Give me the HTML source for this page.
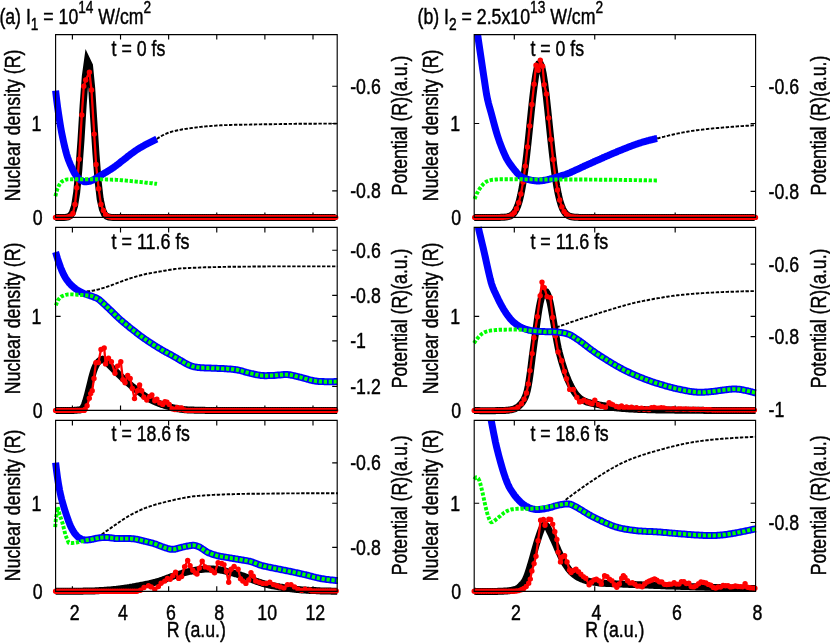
<!DOCTYPE html>
<html><head><meta charset="utf-8"><title>fig</title>
<style>html,body{margin:0;padding:0;background:#fff;overflow:hidden}svg{display:block;will-change:transform}</style></head>
<body>
<svg width="830" height="643" viewBox="0 0 830 643" font-family='"Liberation Sans", sans-serif' fill="#000">
<style>text{stroke:#000;stroke-width:0.45px;stroke-linejoin:round}</style>
<rect width="830" height="643" fill="#fff"/>
<clipPath id="c00"><rect x="55.10" y="34.10" width="282.60" height="186.80"/></clipPath>
<path d="M72.40,34.60v5M72.40,217.40v-5M120.52,34.60v5M120.52,217.40v-5M168.64,34.60v5M168.64,217.40v-5M216.76,34.60v5M216.76,217.40v-5M264.88,34.60v5M264.88,217.40v-5M313.00,34.60v5M313.00,217.40v-5M55.60,123.50h5M337.20,123.50h-5M337.20,86.20h-5M337.20,190.80h-5" fill="none" stroke="#000" stroke-width="1.15"/>
<g id="p00">
<path d="M55.3,217.4L57.4,217.4L59.6,217.4L61.7,217.4L63.9,217.4L66.0,217.2L68.1,216.9L70.3,215.7L72.4,212.6L74.6,205.7L76.7,192.3L78.8,170.3L81.0,140.0L83.1,105.8L85.3,76.3L87.4,61.1L89.5,65.5L91.7,88.1L93.8,120.8L96.0,154.2L98.1,181.1L100.2,199.1L102.4,209.3L104.5,214.3L106.7,216.3L108.8,217.1L110.9,217.3L113.1,217.4L115.2,217.4L117.4,217.4L119.5,217.4L121.6,217.4L123.8,217.4L125.9,217.4L128.1,217.4L130.2,217.4L132.3,217.4L134.5,217.4L136.6,217.4L138.8,217.4L140.9,217.4L143.0,217.4L145.2,217.4L147.3,217.4L149.5,217.4L151.6,217.4L153.7,217.4L155.9,217.4L158.0,217.4L160.2,217.4L162.3,217.4L164.4,217.4L166.6,217.4L168.7,217.4L170.9,217.4L173.0,217.4L175.1,217.4L177.3,217.4L179.4,217.4L181.6,217.4L183.7,217.4L185.8,217.4L188.0,217.4L190.1,217.4L192.3,217.4L194.4,217.4L196.5,217.4L198.7,217.4L200.8,217.4L203.0,217.4L205.1,217.4L207.2,217.4L209.4,217.4L211.5,217.4L213.7,217.4L215.8,217.4L217.9,217.4L220.1,217.4L222.2,217.4L224.4,217.4L226.5,217.4L228.6,217.4L230.8,217.4L232.9,217.4L235.1,217.4L237.2,217.4L239.3,217.4L241.5,217.4L243.6,217.4L245.8,217.4L247.9,217.4L250.0,217.4L252.2,217.4L254.3,217.4L256.5,217.4L258.6,217.4L260.7,217.4L262.9,217.4L265.0,217.4L267.2,217.4L269.3,217.4L271.4,217.4L273.6,217.4L275.7,217.4L277.9,217.4L280.0,217.4L282.1,217.4L284.3,217.4L286.4,217.4L288.6,217.4L290.7,217.4L292.8,217.4L295.0,217.4L297.1,217.4L299.3,217.4L301.4,217.4L303.5,217.4L305.7,217.4L307.8,217.4L310.0,217.4L312.1,217.4L314.2,217.4L316.4,217.4L318.5,217.4L320.7,217.4L322.8,217.4L324.9,217.4L327.1,217.4L329.2,217.4L331.4,217.4L333.5,217.4L335.6,217.4" fill="none" stroke="#000000" stroke-width="7.0" stroke-linejoin="miter" stroke-linecap="butt" stroke-miterlimit="10"/><path d="M55.5,217.4L57.6,217.4L59.8,217.4L62.0,217.4L64.2,217.4L66.3,217.4L68.5,217.0L70.7,215.9L72.9,213.4L75.0,204.4L76.8,187.8L79.1,159.2L81.8,115.0L83.8,86.2L85.7,80.0L89.4,72.2L91.5,90.0L94.2,134.1L96.1,164.5L98.6,188.7L101.0,204.4L103.4,210.5L105.6,214.5L107.8,216.4L110.0,217.1L112.2,217.4L114.3,217.4L116.5,217.4L118.7,217.4L120.9,217.4L123.0,217.4L125.2,217.4L127.4,217.4L129.5,217.4L131.7,217.4L133.9,217.4L136.0,217.4L138.2,217.4L140.4,217.4L142.6,217.4L144.7,217.4L146.9,217.4L149.1,217.4L151.2,217.4L153.4,217.4L155.6,217.4L157.7,217.4L159.9,217.4L162.1,217.4L164.3,217.4L166.4,217.4L168.6,217.4L170.8,217.4L172.9,217.4L175.1,217.4L177.3,217.4L179.4,217.4L181.6,217.4L183.8,217.4L186.0,217.4L188.1,217.4L190.3,217.4L192.5,217.4L194.6,217.4L196.8,217.4L199.0,217.4L201.1,217.4L203.3,217.4L205.5,217.4L207.7,217.4L209.8,217.4L212.0,217.4L214.2,217.4L216.3,217.4L218.5,217.4L220.7,217.4L222.8,217.4L225.0,217.4L227.2,217.4L229.4,217.4L231.5,217.4L233.7,217.4L235.9,217.4L238.0,217.4L240.2,217.4L242.4,217.4L244.5,217.4L246.7,217.4L248.9,217.4L251.1,217.4L253.2,217.4L255.4,217.4L257.6,217.4L259.7,217.4L261.9,217.4L264.1,217.4L266.2,217.4L268.4,217.4L270.6,217.4L272.8,217.4L274.9,217.4L277.1,217.4L279.3,217.4L281.4,217.4L283.6,217.4L285.8,217.4L287.9,217.4L290.1,217.4L292.3,217.4L294.5,217.4L296.6,217.4L298.8,217.4L301.0,217.4L303.1,217.4L305.3,217.4L307.5,217.4L309.6,217.4L311.8,217.4L314.0,217.4L316.2,217.4L318.3,217.4L320.5,217.4L322.7,217.4L324.8,217.4L327.0,217.4L329.2,217.4L331.3,217.4L333.5,217.4L335.7,217.4" fill="none" stroke="#ff0000" stroke-width="2.3" stroke-linejoin="round" stroke-linecap="butt"/><path d="M55.5,217.4h0M57.6,217.4h0M59.8,217.4h0M62.0,217.4h0M64.2,217.4h0M66.3,217.4h0M68.5,217.0h0M70.7,215.9h0M72.9,213.4h0M75.0,204.4h0M76.8,187.8h0M79.1,159.2h0M81.8,115.0h0M83.8,86.2h0M85.7,80.0h0M89.4,72.2h0M91.5,90.0h0M94.2,134.1h0M96.1,164.5h0M98.6,188.7h0M101.0,204.4h0M103.4,210.5h0M105.6,214.5h0M107.8,216.4h0M110.0,217.1h0M112.2,217.4h0M114.3,217.4h0M116.5,217.4h0M118.7,217.4h0M120.9,217.4h0M123.0,217.4h0M125.2,217.4h0M127.4,217.4h0M129.5,217.4h0M131.7,217.4h0M133.9,217.4h0M136.0,217.4h0M138.2,217.4h0M140.4,217.4h0M142.6,217.4h0M144.7,217.4h0M146.9,217.4h0M149.1,217.4h0M151.2,217.4h0M153.4,217.4h0M155.6,217.4h0M157.7,217.4h0M159.9,217.4h0M162.1,217.4h0M164.3,217.4h0M166.4,217.4h0M168.6,217.4h0M170.8,217.4h0M172.9,217.4h0M175.1,217.4h0M177.3,217.4h0M179.4,217.4h0M181.6,217.4h0M183.8,217.4h0M186.0,217.4h0M188.1,217.4h0M190.3,217.4h0M192.5,217.4h0M194.6,217.4h0M196.8,217.4h0M199.0,217.4h0M201.1,217.4h0M203.3,217.4h0M205.5,217.4h0M207.7,217.4h0M209.8,217.4h0M212.0,217.4h0M214.2,217.4h0M216.3,217.4h0M218.5,217.4h0M220.7,217.4h0M222.8,217.4h0M225.0,217.4h0M227.2,217.4h0M229.4,217.4h0M231.5,217.4h0M233.7,217.4h0M235.9,217.4h0M238.0,217.4h0M240.2,217.4h0M242.4,217.4h0M244.5,217.4h0M246.7,217.4h0M248.9,217.4h0M251.1,217.4h0M253.2,217.4h0M255.4,217.4h0M257.6,217.4h0M259.7,217.4h0M261.9,217.4h0M264.1,217.4h0M266.2,217.4h0M268.4,217.4h0M270.6,217.4h0M272.8,217.4h0M274.9,217.4h0M277.1,217.4h0M279.3,217.4h0M281.4,217.4h0M283.6,217.4h0M285.8,217.4h0M287.9,217.4h0M290.1,217.4h0M292.3,217.4h0M294.5,217.4h0M296.6,217.4h0M298.8,217.4h0M301.0,217.4h0M303.1,217.4h0M305.3,217.4h0M307.5,217.4h0M309.6,217.4h0M311.8,217.4h0M314.0,217.4h0M316.2,217.4h0M318.3,217.4h0M320.5,217.4h0M322.7,217.4h0M324.8,217.4h0M327.0,217.4h0M329.2,217.4h0M331.3,217.4h0M333.5,217.4h0M335.7,217.4h0" fill="none" stroke="#ff0000" stroke-width="5.40" stroke-linecap="round"/><path d="M156.8,139.0L157.8,138.3L158.8,137.6L159.8,137.0L160.8,136.3L161.8,135.8L162.8,135.2L163.8,134.8L164.8,134.3L165.8,133.9L166.8,133.4L167.8,133.0L168.8,132.6L169.8,132.3L170.8,132.0L171.8,131.7L172.8,131.4L173.8,131.2L174.8,131.0L175.8,130.7L176.8,130.5L177.8,130.3L178.8,130.1L179.8,129.9L180.8,129.7L181.8,129.5L182.8,129.3L183.8,129.2L184.8,129.0L185.8,128.9L186.8,128.7L187.8,128.6L188.8,128.4L189.8,128.3L190.8,128.1L191.8,128.0L192.8,127.9L193.8,127.7L194.8,127.6L195.8,127.5L196.8,127.4L197.8,127.3L198.8,127.2L199.8,127.0L200.8,126.9L201.8,126.8L202.8,126.7L203.8,126.6L204.8,126.5L205.8,126.4L206.8,126.3L207.8,126.2L208.8,126.2L209.8,126.1L210.8,126.0L211.8,125.9L212.8,125.8L213.8,125.8L214.8,125.7L215.8,125.6L216.8,125.5L217.8,125.5L218.8,125.4L219.8,125.4L220.8,125.3L221.8,125.3L222.8,125.2L223.8,125.2L224.8,125.1L225.8,125.1L226.8,125.1L227.8,125.0L228.8,125.0L229.8,125.0L230.8,125.0L231.8,124.9L232.8,124.9L233.8,124.9L234.8,124.8L235.8,124.8L236.8,124.8L237.8,124.8L238.8,124.8L239.8,124.7L240.8,124.7L241.8,124.7L242.8,124.7L243.8,124.7L244.8,124.6L245.8,124.6L246.8,124.6L247.8,124.6L248.8,124.6L249.8,124.6L250.8,124.5L251.8,124.5L252.8,124.5L253.8,124.5L254.8,124.5L255.8,124.4L256.8,124.4L257.8,124.4L258.8,124.4L259.8,124.4L260.8,124.4L261.8,124.3L262.8,124.3L263.8,124.3L264.8,124.3L265.8,124.3L266.8,124.3L267.8,124.2L268.8,124.2L269.8,124.2L270.8,124.2L271.8,124.2L272.8,124.2L273.8,124.2L274.8,124.1L275.8,124.1L276.8,124.1L277.8,124.1L278.8,124.1L279.8,124.1L280.8,124.0L281.8,124.0L282.8,124.0L283.8,124.0L284.8,124.0L285.8,124.0L286.8,124.0L287.8,123.9L288.8,123.9L289.8,123.9L290.8,123.9L291.8,123.9L292.8,123.9L293.8,123.9L294.8,123.9L295.8,123.8L296.8,123.8L297.8,123.8L298.8,123.8L299.8,123.8L300.8,123.8L301.8,123.8L302.8,123.8L303.8,123.7L304.8,123.7L305.8,123.7L306.8,123.7L307.8,123.7L308.8,123.7L309.8,123.7L310.8,123.7L311.8,123.7L312.8,123.7L313.8,123.7L314.8,123.7L315.8,123.7L316.8,123.6L317.8,123.6L318.8,123.6L319.8,123.6L320.8,123.6L321.8,123.6L322.8,123.6L323.8,123.6L324.8,123.6L325.8,123.6L326.8,123.6L327.8,123.6L328.8,123.6L329.8,123.6L330.8,123.6L331.8,123.6L332.8,123.6L333.8,123.6L334.8,123.6L335.8,123.6L336.8,123.6L337.0,123.6" fill="none" stroke="#000000" stroke-width="1.9" stroke-linejoin="round" stroke-linecap="butt" stroke-dasharray="3.4 1.57"/><path d="M55.6,90.6L56.6,99.3L57.6,107.1L58.6,114.1L59.6,120.6L60.6,126.7L61.6,132.3L62.6,137.3L63.6,142.0L64.6,146.4L65.6,150.5L66.6,154.2L67.6,157.4L68.6,160.2L69.6,162.7L70.6,165.1L71.6,167.3L72.6,169.5L73.6,171.5L74.6,173.3L75.6,174.9L76.6,176.3L77.6,177.5L78.6,178.5L79.6,179.4L80.6,180.1L81.6,180.6L82.6,181.1L83.6,181.5L84.6,181.7L85.6,181.8L86.6,181.7L87.6,181.6L88.6,181.5L89.6,181.2L90.6,181.0L91.6,180.6L92.6,180.2L93.6,179.6L94.6,179.1L95.6,178.5L96.6,177.9L97.6,177.3L98.6,176.7L99.6,176.1L100.6,175.5L101.6,174.9L102.6,174.3L103.6,173.7L104.6,173.1L105.6,172.5L106.6,171.9L107.6,171.3L108.6,170.7L109.6,170.0L110.6,169.4L111.6,168.8L112.6,168.1L113.6,167.5L114.6,166.7L115.6,166.0L116.6,165.2L117.6,164.5L118.6,163.7L119.6,162.9L120.6,162.1L121.6,161.3L122.6,160.5L123.6,159.8L124.6,159.0L125.6,158.2L126.6,157.4L127.6,156.6L128.6,155.8L129.6,155.1L130.6,154.3L131.6,153.5L132.6,152.8L133.6,152.1L134.6,151.4L135.6,150.7L136.6,150.0L137.6,149.3L138.6,148.7L139.6,148.1L140.6,147.5L141.6,146.9L142.6,146.3L143.6,145.8L144.6,145.2L145.6,144.7L146.6,144.2L147.6,143.6L148.6,143.1L149.6,142.6L150.6,142.1L151.6,141.6L152.6,141.1L153.6,140.6L154.6,140.1L155.6,139.6L156.6,139.1L156.8,139.0" fill="none" stroke="#0000ff" stroke-width="7.0" stroke-linejoin="round" stroke-linecap="butt"/><path d="M55.4,196.2L56.4,192.1L57.4,188.9L58.4,186.6L59.4,184.7L60.4,183.2L61.4,182.0L62.4,181.3L63.4,180.8L64.4,180.3L65.4,179.9L66.4,179.6L67.4,179.4L68.4,179.4L69.4,179.4L70.4,179.4L71.4,179.3L72.4,179.3L73.4,179.3L74.4,179.3L75.4,179.3L76.4,179.2L77.4,179.2L78.4,179.2L79.4,179.2L80.4,179.2L81.4,179.2L82.4,179.2L83.4,179.2L84.4,179.2L85.4,179.2L86.4,179.2L87.4,179.2L88.4,179.2L89.4,179.2L90.4,179.2L91.4,179.2L92.4,179.3L93.4,179.3L94.4,179.3L95.4,179.3L96.4,179.3L97.4,179.3L98.4,179.3L99.4,179.3L100.4,179.3L101.4,179.4L102.4,179.4L103.4,179.4L104.4,179.4L105.4,179.4L106.4,179.5L107.4,179.5L108.4,179.5L109.4,179.6L110.4,179.6L111.4,179.6L112.4,179.7L113.4,179.7L114.4,179.8L115.4,179.8L116.4,179.9L117.4,179.9L118.4,180.0L119.4,180.0L120.4,180.1L121.4,180.2L122.4,180.3L123.4,180.4L124.4,180.4L125.4,180.5L126.4,180.6L127.4,180.7L128.4,180.8L129.4,180.9L130.4,181.0L131.4,181.1L132.4,181.2L133.4,181.3L134.4,181.4L135.4,181.5L136.4,181.6L137.4,181.7L138.4,181.8L139.4,181.9L140.4,182.0L141.4,182.1L142.4,182.2L143.4,182.3L144.4,182.4L145.4,182.6L146.4,182.7L147.4,182.8L148.4,182.9L149.4,183.0L150.4,183.1L151.4,183.2L152.4,183.3L153.4,183.5L154.4,183.6L155.4,183.7L156.4,183.8L157.0,183.9" fill="none" stroke="#00ff00" stroke-width="3.9" stroke-linejoin="miter" stroke-linecap="butt" stroke-dasharray="3.3 1.67"/>
</g>
<path d="M55.60,34.60H337.20V217.40H55.60Z" fill="none" stroke="#000" stroke-width="1.15"/>
<text transform="translate(41.40,131.10) scale(0.806,1)" font-size="22" text-anchor="end">1</text>
<text transform="translate(42.60,224.80) scale(0.806,1)" font-size="22" text-anchor="end">0</text>
<text transform="translate(350.20,93.80) scale(0.806,1)" font-size="22" text-anchor="start">-0.6</text>
<text transform="translate(350.20,198.40) scale(0.806,1)" font-size="22" text-anchor="start">-0.8</text>
<text transform="translate(19.80,125.50) rotate(-90) scale(0.806,1)" font-size="22" text-anchor="middle">Nuclear density (R)</text>
<text transform="translate(407.20,125.50) rotate(-90) scale(0.806,1)" font-size="22" text-anchor="middle">Potential (R)(a.u.)</text>
<text transform="translate(111.60,56.40) scale(0.806,1)" font-size="22" text-anchor="start">t = 0 fs</text>
<clipPath id="c01"><rect x="55.10" y="226.90" width="282.60" height="187.00"/></clipPath>
<path d="M72.40,227.40v5M72.40,410.40v-5M120.52,227.40v5M120.52,410.40v-5M168.64,227.40v5M168.64,410.40v-5M216.76,227.40v5M216.76,410.40v-5M264.88,227.40v5M264.88,410.40v-5M313.00,227.40v5M313.00,410.40v-5M55.60,316.30h5M337.20,316.30h-5M337.20,250.20h-5M337.20,295.40h-5M337.20,340.80h-5M337.20,386.30h-5" fill="none" stroke="#000" stroke-width="1.15"/>
<g id="p01">
<path d="M55.6,410.4L56.6,410.4L57.6,410.4L58.6,410.5L59.6,410.5L60.6,410.5L61.6,410.5L62.6,410.5L63.6,410.5L64.6,410.5L65.6,410.4L66.6,410.4L67.6,410.4L68.6,410.4L69.6,410.4L70.6,410.4L71.6,410.4L72.6,410.4L73.6,410.4L74.6,410.3L75.6,410.3L76.6,410.2L77.6,410.1L78.6,410.1L79.6,410.0L80.6,409.7L81.6,409.1L82.6,408.1L83.6,406.6L84.6,404.4L85.6,401.4L86.6,398.0L87.6,394.3L88.6,390.4L89.6,386.4L90.6,382.3L91.6,378.2L92.6,374.4L93.6,371.1L94.6,368.3L95.6,366.0L96.6,364.1L97.6,362.6L98.6,361.5L99.6,360.7L100.6,360.1L101.6,359.6L102.6,359.3L103.6,359.7L104.6,360.6L105.6,361.5L106.6,362.5L107.6,363.4L108.6,364.4L109.6,365.4L110.6,366.4L111.6,367.4L112.6,368.4L113.6,369.4L114.6,370.4L115.6,371.3L116.6,372.3L117.6,373.3L118.6,374.3L119.6,375.3L120.6,376.2L121.6,377.1L122.6,378.1L123.6,379.0L124.6,379.9L125.6,380.8L126.6,381.6L127.6,382.5L128.6,383.4L129.6,384.2L130.6,385.1L131.6,385.9L132.6,386.7L133.6,387.5L134.6,388.3L135.6,389.1L136.6,389.9L137.6,390.7L138.6,391.5L139.6,392.3L140.6,393.0L141.6,393.7L142.6,394.5L143.6,395.2L144.6,395.9L145.6,396.6L146.6,397.2L147.6,397.9L148.6,398.5L149.6,399.0L150.6,399.6L151.6,400.1L152.6,400.6L153.6,401.1L154.6,401.6L155.6,402.0L156.6,402.4L157.6,402.9L158.6,403.3L159.6,403.7L160.6,404.0L161.6,404.4L162.6,404.7L163.6,405.0L164.6,405.3L165.6,405.6L166.6,405.9L167.6,406.2L168.6,406.5L169.6,406.8L170.6,407.1L171.6,407.3L172.6,407.6L173.6,407.8L174.6,408.1L175.6,408.3L176.6,408.5L177.6,408.7L178.6,408.9L179.6,409.0L180.6,409.2L181.6,409.3L182.6,409.4L183.6,409.6L184.6,409.7L185.6,409.7L186.6,409.8L187.6,409.9L188.6,410.0L189.6,410.0L190.6,410.1L191.6,410.1L192.6,410.1L193.6,410.1L194.6,410.2L195.6,410.2L196.6,410.2L197.6,410.2L198.6,410.2L199.6,410.3L200.6,410.3L201.6,410.3L202.6,410.3L203.6,410.3L204.6,410.3L205.6,410.4L206.6,410.4L207.6,410.4L208.6,410.4L209.6,410.4L210.6,410.4L211.6,410.4L212.6,410.4L213.6,410.4L214.6,410.4L215.6,410.4L216.6,410.4L217.6,410.4L218.6,410.4L219.6,410.4L220.6,410.4L221.6,410.4L222.6,410.4L223.6,410.4L224.6,410.4L225.6,410.4L226.6,410.4L227.6,410.4L228.6,410.4L229.6,410.4L230.6,410.4L231.6,410.5L232.6,410.5L233.6,410.5L234.6,410.5L235.6,410.5L236.6,410.5L237.6,410.5L238.6,410.5L239.6,410.5L240.6,410.5L241.6,410.5L242.6,410.5L243.6,410.5L244.6,410.5L245.6,410.5L246.6,410.5L247.6,410.5L248.6,410.5L249.6,410.5L250.6,410.5L251.6,410.5L252.6,410.5L253.6,410.5L254.6,410.5L255.6,410.5L256.6,410.5L257.6,410.5L258.6,410.5L259.6,410.5L260.6,410.5L261.6,410.5L262.6,410.5L263.6,410.5L264.6,410.5L265.6,410.5L266.6,410.5L267.6,410.5L268.6,410.5L269.6,410.5L270.6,410.5L271.6,410.5L272.6,410.6L273.6,410.6L274.6,410.6L275.6,410.6L276.6,410.6L277.6,410.6L278.6,410.6L279.6,410.6L280.6,410.6L281.6,410.6L282.6,410.6L283.6,410.6L284.6,410.6L285.6,410.6L286.6,410.6L287.6,410.6L288.6,410.6L289.6,410.6L290.6,410.6L291.6,410.6L292.6,410.6L293.6,410.6L294.6,410.6L295.6,410.6L296.6,410.6L297.6,410.6L298.6,410.6L299.6,410.6L300.6,410.6L301.6,410.6L302.6,410.6L303.6,410.6L304.6,410.5L305.6,410.5L306.6,410.5L307.6,410.5L308.6,410.5L309.6,410.5L310.6,410.5L311.6,410.5L312.6,410.5L313.6,410.5L314.6,410.5L315.6,410.5L316.6,410.5L317.6,410.5L318.6,410.5L319.6,410.5L320.6,410.5L321.6,410.5L322.6,410.5L323.6,410.5L324.6,410.5L325.6,410.5L326.6,410.5L327.6,410.5L328.6,410.5L329.6,410.5L330.6,410.4L331.6,410.4L332.6,410.4L333.6,410.4L334.6,410.4L335.6,410.4L336.6,410.4L337.2,410.4" fill="none" stroke="#000000" stroke-width="7.0" stroke-linejoin="miter" stroke-linecap="butt" stroke-miterlimit="10"/><path d="M55.6,410.4L57.8,410.4L60.0,410.4L62.2,410.4L64.4,410.4L66.6,410.4L68.8,410.4L71.0,410.4L73.2,410.4L75.4,410.4L77.6,410.4L79.8,410.4L82.0,410.4L84.2,410.4L85.2,409.3L87.1,405.8L89.3,398.3L90.7,393.6L92.2,390.7L94.0,378.4L95.9,362.8L98.4,362.5L101.0,349.5L104.2,348.0L105.6,363.9L108.5,358.1L111.4,361.7L115.0,373.3L117.5,366.1L120.8,361.7L122.9,379.8L125.1,382.7L127.7,375.5L130.2,378.4L132.3,388.5L134.5,398.6L137.4,390.7L139.6,384.9L141.7,390.7L143.9,397.2L146.8,400.1L149.7,396.4L151.9,395.0L154.8,400.8L156.9,399.3L159.8,402.9L162.7,404.4L164.9,401.8L167.0,402.2L169.2,404.4L172.1,408.7L175.0,409.5L177.2,407.5L179.4,409.5L181.6,408.0L183.8,409.8L186.0,410.4L188.2,410.4L190.4,410.4L192.6,410.4L194.8,410.4L197.0,410.4L199.2,410.4L201.4,410.4L203.6,410.4L205.8,410.4L208.0,410.4L210.2,410.4L212.4,410.4L214.6,410.4L216.8,410.4L219.0,410.4L221.2,410.4L223.4,410.4L225.6,410.4L227.8,410.4L230.0,410.4L232.2,410.4L234.4,410.4L236.6,410.4L238.8,410.4L241.0,410.4L243.2,410.4L245.4,410.4L247.6,410.4L249.8,410.4L252.0,410.4L254.2,410.4L256.4,410.4L258.6,410.4L260.8,410.4L263.0,410.4L265.2,410.4L267.4,410.4L269.6,410.4L271.8,410.4L274.0,410.4L276.2,410.4L278.4,410.4L280.6,410.4L282.8,410.4L285.0,410.4L287.2,410.4L289.4,410.4L291.6,410.4L293.8,410.4L296.0,410.4L298.2,410.4L300.4,410.4L302.6,410.4L304.8,410.4L307.0,410.4L309.2,410.4L311.4,410.4L313.6,410.4L315.8,410.4L318.0,410.4L320.2,410.4L322.4,410.4L324.6,410.4L326.8,410.4L329.0,410.4L331.2,410.4L333.4,410.4L335.6,410.4" fill="none" stroke="#ff0000" stroke-width="2.3" stroke-linejoin="round" stroke-linecap="butt"/><path d="M55.6,410.4h0M57.8,410.4h0M60.0,410.4h0M62.2,410.4h0M64.4,410.4h0M66.6,410.4h0M68.8,410.4h0M71.0,410.4h0M73.2,410.4h0M75.4,410.4h0M77.6,410.4h0M79.8,410.4h0M82.0,410.4h0M84.2,410.4h0M85.2,409.3h0M87.1,405.8h0M89.3,398.3h0M90.7,393.6h0M92.2,390.7h0M94.0,378.4h0M95.9,362.8h0M98.4,362.5h0M101.0,349.5h0M104.2,348.0h0M105.6,363.9h0M108.5,358.1h0M111.4,361.7h0M115.0,373.3h0M117.5,366.1h0M120.8,361.7h0M122.9,379.8h0M125.1,382.7h0M127.7,375.5h0M130.2,378.4h0M132.3,388.5h0M134.5,398.6h0M137.4,390.7h0M139.6,384.9h0M141.7,390.7h0M143.9,397.2h0M146.8,400.1h0M149.7,396.4h0M151.9,395.0h0M154.8,400.8h0M156.9,399.3h0M159.8,402.9h0M162.7,404.4h0M164.9,401.8h0M167.0,402.2h0M169.2,404.4h0M172.1,408.7h0M175.0,409.5h0M177.2,407.5h0M179.4,409.5h0M181.6,408.0h0M183.8,409.8h0M186.0,410.4h0M188.2,410.4h0M190.4,410.4h0M192.6,410.4h0M194.8,410.4h0M197.0,410.4h0M199.2,410.4h0M201.4,410.4h0M203.6,410.4h0M205.8,410.4h0M208.0,410.4h0M210.2,410.4h0M212.4,410.4h0M214.6,410.4h0M216.8,410.4h0M219.0,410.4h0M221.2,410.4h0M223.4,410.4h0M225.6,410.4h0M227.8,410.4h0M230.0,410.4h0M232.2,410.4h0M234.4,410.4h0M236.6,410.4h0M238.8,410.4h0M241.0,410.4h0M243.2,410.4h0M245.4,410.4h0M247.6,410.4h0M249.8,410.4h0M252.0,410.4h0M254.2,410.4h0M256.4,410.4h0M258.6,410.4h0M260.8,410.4h0M263.0,410.4h0M265.2,410.4h0M267.4,410.4h0M269.6,410.4h0M271.8,410.4h0M274.0,410.4h0M276.2,410.4h0M278.4,410.4h0M280.6,410.4h0M282.8,410.4h0M285.0,410.4h0M287.2,410.4h0M289.4,410.4h0M291.6,410.4h0M293.8,410.4h0M296.0,410.4h0M298.2,410.4h0M300.4,410.4h0M302.6,410.4h0M304.8,410.4h0M307.0,410.4h0M309.2,410.4h0M311.4,410.4h0M313.6,410.4h0M315.8,410.4h0M318.0,410.4h0M320.2,410.4h0M322.4,410.4h0M324.6,410.4h0M326.8,410.4h0M329.0,410.4h0M331.2,410.4h0M333.4,410.4h0M335.6,410.4h0" fill="none" stroke="#ff0000" stroke-width="5.40" stroke-linecap="round"/><path d="M81.8,291.5L82.8,291.5L83.8,291.5L84.8,291.5L85.8,291.5L86.8,291.4L87.8,291.3L88.8,291.2L89.8,291.1L90.8,291.0L91.8,290.8L92.8,290.7L93.8,290.5L94.8,290.3L95.8,290.1L96.8,289.8L97.8,289.6L98.8,289.3L99.8,289.0L100.8,288.7L101.8,288.4L102.8,288.1L103.8,287.8L104.8,287.5L105.8,287.2L106.8,286.8L107.8,286.5L108.8,286.2L109.8,285.8L110.8,285.5L111.8,285.1L112.8,284.7L113.8,284.4L114.8,284.0L115.8,283.6L116.8,283.2L117.8,282.8L118.8,282.4L119.8,282.0L120.8,281.7L121.8,281.3L122.8,280.9L123.8,280.5L124.8,280.2L125.8,279.8L126.8,279.5L127.8,279.2L128.8,278.8L129.8,278.5L130.8,278.2L131.8,277.9L132.8,277.6L133.8,277.3L134.8,277.0L135.8,276.7L136.8,276.4L137.8,276.1L138.8,275.8L139.8,275.5L140.8,275.3L141.8,275.0L142.8,274.7L143.8,274.5L144.8,274.3L145.8,274.0L146.8,273.8L147.8,273.6L148.8,273.5L149.8,273.3L150.8,273.1L151.8,272.9L152.8,272.7L153.8,272.6L154.8,272.4L155.8,272.2L156.8,272.0L157.8,271.9L158.8,271.7L159.8,271.5L160.8,271.4L161.8,271.2L162.8,271.0L163.8,270.8L164.8,270.7L165.8,270.5L166.8,270.3L167.8,270.1L168.8,270.0L169.8,269.8L170.8,269.7L171.8,269.5L172.8,269.3L173.8,269.2L174.8,269.0L175.8,268.9L176.8,268.8L177.8,268.7L178.8,268.6L179.8,268.5L180.8,268.4L181.8,268.4L182.8,268.3L183.8,268.2L184.8,268.2L185.8,268.1L186.8,268.1L187.8,268.1L188.8,268.0L189.8,268.0L190.8,267.9L191.8,267.9L192.8,267.8L193.8,267.8L194.8,267.7L195.8,267.7L196.8,267.7L197.8,267.6L198.8,267.6L199.8,267.5L200.8,267.5L201.8,267.5L202.8,267.4L203.8,267.4L204.8,267.3L205.8,267.3L206.8,267.3L207.8,267.3L208.8,267.2L209.8,267.2L210.8,267.2L211.8,267.2L212.8,267.1L213.8,267.1L214.8,267.1L215.8,267.1L216.8,267.0L217.8,267.0L218.8,267.0L219.8,267.0L220.8,267.0L221.8,266.9L222.8,266.9L223.8,266.9L224.8,266.9L225.8,266.9L226.8,266.8L227.8,266.8L228.8,266.8L229.8,266.8L230.8,266.8L231.8,266.8L232.8,266.7L233.8,266.7L234.8,266.7L235.8,266.7L236.8,266.7L237.8,266.7L238.8,266.7L239.8,266.7L240.8,266.7L241.8,266.6L242.8,266.6L243.8,266.6L244.8,266.6L245.8,266.6L246.8,266.6L247.8,266.6L248.8,266.6L249.8,266.6L250.8,266.6L251.8,266.6L252.8,266.5L253.8,266.5L254.8,266.5L255.8,266.5L256.8,266.5L257.8,266.5L258.8,266.5L259.8,266.5L260.8,266.5L261.8,266.5L262.8,266.5L263.8,266.5L264.8,266.5L265.8,266.5L266.8,266.5L267.8,266.4L268.8,266.4L269.8,266.4L270.8,266.4L271.8,266.4L272.8,266.4L273.8,266.4L274.8,266.4L275.8,266.4L276.8,266.4L277.8,266.4L278.8,266.4L279.8,266.4L280.8,266.4L281.8,266.4L282.8,266.4L283.8,266.4L284.8,266.4L285.8,266.4L286.8,266.4L287.8,266.4L288.8,266.4L289.8,266.4L290.8,266.4L291.8,266.4L292.8,266.4L293.8,266.4L294.8,266.4L295.8,266.4L296.8,266.4L297.8,266.4L298.8,266.4L299.8,266.4L300.8,266.4L301.8,266.4L302.8,266.4L303.8,266.4L304.8,266.4L305.8,266.4L306.8,266.4L307.8,266.4L308.8,266.4L309.8,266.4L310.8,266.4L311.8,266.4L312.8,266.4L313.8,266.4L314.8,266.4L315.8,266.4L316.8,266.4L317.8,266.4L318.8,266.4L319.8,266.4L320.8,266.4L321.8,266.4L322.8,266.4L323.8,266.4L324.8,266.4L325.8,266.4L326.8,266.4L327.8,266.4L328.8,266.4L329.8,266.4L330.8,266.4L331.8,266.4L332.8,266.4L333.8,266.4L334.8,266.4L335.8,266.4L336.8,266.4L337.3,266.4" fill="none" stroke="#000000" stroke-width="1.9" stroke-linejoin="round" stroke-linecap="butt" stroke-dasharray="3.4 1.57"/><path d="M55.6,252.1L56.6,255.5L57.6,258.8L58.6,261.8L59.6,264.7L60.6,267.5L61.6,270.0L62.6,272.3L63.6,274.4L64.6,276.3L65.6,278.1L66.6,279.6L67.6,280.9L68.6,282.2L69.6,283.4L70.6,284.5L71.6,285.5L72.6,286.3L73.6,287.2L74.6,288.0L75.6,288.8L76.6,289.5L77.6,290.2L78.6,290.8L79.6,291.4L80.6,291.9L81.6,292.4L82.6,292.9L83.6,293.4L84.6,293.8L85.6,294.1L86.6,294.5L87.6,294.8L88.6,295.2L89.6,295.5L90.6,295.9L91.6,296.2L92.6,296.6L93.6,297.0L94.6,297.4L95.6,297.7L96.6,298.2L97.6,298.7L98.6,299.3L99.6,300.1L100.6,300.9L101.6,301.8L102.6,302.7L103.6,303.7L104.6,304.6L105.6,305.6L106.6,306.5L107.6,307.5L108.6,308.4L109.6,309.4L110.6,310.3L111.6,311.3L112.6,312.3L113.6,313.3L114.6,314.2L115.6,315.2L116.6,316.2L117.6,317.1L118.6,318.1L119.6,319.0L120.6,319.9L121.6,320.7L122.6,321.6L123.6,322.5L124.6,323.3L125.6,324.1L126.6,324.9L127.6,325.7L128.6,326.6L129.6,327.4L130.6,328.2L131.6,329.0L132.6,329.7L133.6,330.5L134.6,331.3L135.6,332.1L136.6,332.9L137.6,333.7L138.6,334.4L139.6,335.2L140.6,336.0L141.6,336.7L142.6,337.4L143.6,338.1L144.6,338.8L145.6,339.5L146.6,340.2L147.6,340.9L148.6,341.5L149.6,342.2L150.6,342.8L151.6,343.5L152.6,344.1L153.6,344.8L154.6,345.4L155.6,346.0L156.6,346.7L157.6,347.3L158.6,347.9L159.6,348.5L160.6,349.1L161.6,349.7L162.6,350.3L163.6,350.9L164.6,351.4L165.6,352.0L166.6,352.5L167.6,353.1L168.6,353.6L169.6,354.1L170.6,354.7L171.6,355.2L172.6,355.8L173.6,356.3L174.6,356.9L175.6,357.5L176.6,358.1L177.6,358.7L178.6,359.3L179.6,359.9L180.6,360.5L181.6,361.0L182.6,361.6L183.6,362.2L184.6,362.8L185.6,363.3L186.6,363.9L187.6,364.4L188.6,364.8L189.6,365.3L190.6,365.7L191.6,366.1L192.6,366.4L193.6,366.7L194.6,366.9L195.6,367.1L196.6,367.2L197.6,367.4L198.6,367.5L199.6,367.6L200.6,367.7L201.6,367.7L202.6,367.8L203.6,367.8L204.6,367.9L205.6,367.9L206.6,368.0L207.6,368.0L208.6,368.1L209.6,368.1L210.6,368.1L211.6,368.2L212.6,368.2L213.6,368.2L214.6,368.3L215.6,368.3L216.6,368.3L217.6,368.4L218.6,368.4L219.6,368.4L220.6,368.5L221.6,368.5L222.6,368.6L223.6,368.6L224.6,368.7L225.6,368.8L226.6,368.8L227.6,368.9L228.6,369.0L229.6,369.0L230.6,369.1L231.6,369.2L232.6,369.3L233.6,369.4L234.6,369.5L235.6,369.7L236.6,369.8L237.6,370.0L238.6,370.2L239.6,370.4L240.6,370.6L241.6,370.9L242.6,371.2L243.6,371.5L244.6,371.8L245.6,372.1L246.6,372.4L247.6,372.6L248.6,372.9L249.6,373.1L250.6,373.4L251.6,373.6L252.6,373.8L253.6,374.0L254.6,374.3L255.6,374.5L256.6,374.7L257.6,374.9L258.6,375.1L259.6,375.2L260.6,375.4L261.6,375.5L262.6,375.6L263.6,375.6L264.6,375.7L265.6,375.7L266.6,375.7L267.6,375.6L268.6,375.6L269.6,375.6L270.6,375.5L271.6,375.5L272.6,375.4L273.6,375.4L274.6,375.4L275.6,375.3L276.6,375.2L277.6,375.1L278.6,375.0L279.6,374.9L280.6,374.9L281.6,374.8L282.6,374.7L283.6,374.6L284.6,374.6L285.6,374.6L286.6,374.6L287.6,374.6L288.6,374.7L289.6,374.8L290.6,375.0L291.6,375.2L292.6,375.4L293.6,375.6L294.6,375.8L295.6,376.1L296.6,376.3L297.6,376.6L298.6,376.8L299.6,377.1L300.6,377.3L301.6,377.5L302.6,377.8L303.6,378.1L304.6,378.4L305.6,378.7L306.6,379.0L307.6,379.2L308.6,379.5L309.6,379.8L310.6,380.1L311.6,380.3L312.6,380.5L313.6,380.7L314.6,380.9L315.6,381.0L316.6,381.2L317.6,381.3L318.6,381.4L319.6,381.5L320.6,381.5L321.6,381.6L322.6,381.6L323.6,381.6L324.6,381.7L325.6,381.7L326.6,381.7L327.6,381.7L328.6,381.7L329.6,381.7L330.6,381.7L331.6,381.7L332.6,381.7L333.6,381.7L334.6,381.6L335.6,381.6L336.6,381.5L337.3,381.5" fill="none" stroke="#0000ff" stroke-width="7.0" stroke-linejoin="round" stroke-linecap="butt"/><path d="M55.9,305.4L56.9,302.4L57.9,300.2L58.9,298.9L59.9,297.8L60.9,296.9L61.9,296.3L62.9,295.9L63.9,295.5L64.9,295.1L65.9,294.8L66.9,294.6L67.9,294.5L68.9,294.5L69.9,294.4L70.9,294.4L71.9,294.4L72.9,294.4L73.9,294.5L74.9,294.6L75.9,294.6L76.9,294.7L77.9,294.8L78.9,294.8L79.9,294.9L80.9,295.0L81.9,295.0L82.9,295.1L83.9,295.2L84.9,295.2L85.9,295.3L86.9,295.4L87.9,295.5L88.9,295.6L89.9,295.7L90.9,295.9L91.9,296.1L92.9,296.5L93.9,296.9L94.9,297.4L95.9,297.9L96.9,298.4L97.9,298.9L98.9,299.6L99.9,300.3L100.9,301.2L101.9,302.1L102.9,303.0L103.9,304.0L104.9,304.9L105.9,305.8L106.9,306.8L107.9,307.7L108.9,308.7L109.9,309.7L110.9,310.6L111.9,311.6L112.9,312.6L113.9,313.6L114.9,314.5L115.9,315.5L116.9,316.5L117.9,317.4L118.9,318.3L119.9,319.2L120.9,320.1L121.9,321.0L122.9,321.9L123.9,322.7L124.9,323.5L125.9,324.4L126.9,325.2L127.9,326.0L128.9,326.8L129.9,327.6L130.9,328.4L131.9,329.2L132.9,330.0L133.9,330.8L134.9,331.6L135.9,332.3L136.9,333.1L137.9,333.9L138.9,334.7L139.9,335.4L140.9,336.2L141.9,336.9L142.9,337.6L143.9,338.3L144.9,339.0L145.9,339.7L146.9,340.4L147.9,341.1L148.9,341.7L149.9,342.4L150.9,343.0L151.9,343.7L152.9,344.3L153.9,345.0L154.9,345.6L155.9,346.2L156.9,346.9L157.9,347.5L158.9,348.1L159.9,348.7L160.9,349.3L161.9,349.9L162.9,350.5L163.9,351.1L164.9,351.6L165.9,352.2L166.9,352.7L167.9,353.2L168.9,353.8L169.9,354.3L170.9,354.8L171.9,355.4L172.9,355.9L173.9,356.5L174.9,357.1L175.9,357.7L176.9,358.3L177.9,358.8L178.9,359.4L179.9,360.0L180.9,360.6L181.9,361.2L182.9,361.8L183.9,362.4L184.9,362.9L185.9,363.5L186.9,364.0L187.9,364.5L188.9,365.0L189.9,365.4L190.9,365.8L191.9,366.2L192.9,366.5L193.9,366.7L194.9,366.9L195.9,367.1L196.9,367.3L197.9,367.4L198.9,367.5L199.9,367.6L200.9,367.7L201.9,367.7L202.9,367.8L203.9,367.9L204.9,367.9L205.9,367.9L206.9,368.0L207.9,368.0L208.9,368.1L209.9,368.1L210.9,368.1L211.9,368.2L212.9,368.2L213.9,368.2L214.9,368.3L215.9,368.3L216.9,368.3L217.9,368.4L218.9,368.4L219.9,368.5L220.9,368.5L221.9,368.6L222.9,368.6L223.9,368.7L224.9,368.7L225.9,368.8L226.9,368.8L227.9,368.9L228.9,369.0L229.9,369.1L230.9,369.1L231.9,369.2L232.9,369.3L233.9,369.4L234.9,369.6L235.9,369.7L236.9,369.8L237.9,370.0L238.9,370.2L239.9,370.5L240.9,370.7L241.9,371.0L242.9,371.3L243.9,371.6L244.9,371.9L245.9,372.2L246.9,372.4L247.9,372.7L248.9,373.0L249.9,373.2L250.9,373.4L251.9,373.7L252.9,373.9L253.9,374.1L254.9,374.3L255.9,374.6L256.9,374.8L257.9,374.9L258.9,375.1L259.9,375.3L260.9,375.4L261.9,375.5L262.9,375.6L263.9,375.6L264.9,375.7L265.9,375.7L266.9,375.7L267.9,375.6L268.9,375.6L269.9,375.6L270.9,375.5L271.9,375.5L272.9,375.4L273.9,375.4L274.9,375.3L275.9,375.3L276.9,375.2L277.9,375.1L278.9,375.0L279.9,374.9L280.9,374.8L281.9,374.7L282.9,374.7L283.9,374.6L284.9,374.6L285.9,374.6L286.9,374.6L287.9,374.7L288.9,374.7L289.9,374.9L290.9,375.0L291.9,375.2L292.9,375.4L293.9,375.6L294.9,375.9L295.9,376.1L296.9,376.4L297.9,376.6L298.9,376.9L299.9,377.1L300.9,377.4L301.9,377.6L302.9,377.9L303.9,378.2L304.9,378.5L305.9,378.8L306.9,379.0L307.9,379.3L308.9,379.6L309.9,379.9L310.9,380.1L311.9,380.4L312.9,380.6L313.9,380.8L314.9,380.9L315.9,381.1L316.9,381.2L317.9,381.3L318.9,381.4L319.9,381.5L320.9,381.5L321.9,381.6L322.9,381.6L323.9,381.6L324.9,381.7L325.9,381.7L326.9,381.7L327.9,381.7L328.9,381.7L329.9,381.7L330.9,381.7L331.9,381.7L332.9,381.7L333.9,381.7L334.9,381.6L335.9,381.6L336.9,381.5L337.3,381.5" fill="none" stroke="#00ff00" stroke-width="3.9" stroke-linejoin="miter" stroke-linecap="butt" stroke-dasharray="3.3 1.67"/>
</g>
<path d="M55.60,227.40H337.20V410.40H55.60Z" fill="none" stroke="#000" stroke-width="1.15"/>
<text transform="translate(41.40,323.90) scale(0.806,1)" font-size="22" text-anchor="end">1</text>
<text transform="translate(42.60,417.80) scale(0.806,1)" font-size="22" text-anchor="end">0</text>
<text transform="translate(350.20,257.80) scale(0.806,1)" font-size="22" text-anchor="start">-0.6</text>
<text transform="translate(350.20,303.00) scale(0.806,1)" font-size="22" text-anchor="start">-0.8</text>
<text transform="translate(350.20,348.40) scale(0.806,1)" font-size="22" text-anchor="start">-1</text>
<text transform="translate(350.20,393.90) scale(0.806,1)" font-size="22" text-anchor="start">-1.2</text>
<text transform="translate(19.80,318.40) rotate(-90) scale(0.806,1)" font-size="22" text-anchor="middle">Nuclear density (R)</text>
<text transform="translate(407.20,318.40) rotate(-90) scale(0.806,1)" font-size="22" text-anchor="middle">Potential (R)(a.u.)</text>
<text transform="translate(111.60,248.50) scale(0.815,1)" font-size="22" text-anchor="start">t = 11.6 fs</text>
<clipPath id="c02"><rect x="55.10" y="419.90" width="282.60" height="174.90"/></clipPath>
<path d="M72.40,420.40v5M72.40,591.30v-5M120.52,420.40v5M120.52,591.30v-5M168.64,420.40v5M168.64,591.30v-5M216.76,420.40v5M216.76,591.30v-5M264.88,420.40v5M264.88,591.30v-5M313.00,420.40v5M313.00,591.30v-5M55.60,503.20h5M337.20,503.20h-5M337.20,462.80h-5M337.20,547.40h-5" fill="none" stroke="#000" stroke-width="1.15"/>
<g id="p02">
<path d="M55.6,591.3L56.6,591.3L57.6,591.3L58.6,591.3L59.6,591.3L60.6,591.3L61.6,591.3L62.6,591.3L63.6,591.3L64.6,591.3L65.6,591.3L66.6,591.3L67.6,591.3L68.6,591.3L69.6,591.3L70.6,591.3L71.6,591.3L72.6,591.3L73.6,591.3L74.6,591.3L75.6,591.3L76.6,591.3L77.6,591.2L78.6,591.2L79.6,591.2L80.6,591.2L81.6,591.2L82.6,591.2L83.6,591.1L84.6,591.1L85.6,591.1L86.6,591.1L87.6,591.1L88.6,591.0L89.6,591.0L90.6,591.0L91.6,591.0L92.6,590.9L93.6,590.9L94.6,590.9L95.6,590.8L96.6,590.8L97.6,590.7L98.6,590.7L99.6,590.6L100.6,590.6L101.6,590.5L102.6,590.5L103.6,590.4L104.6,590.3L105.6,590.3L106.6,590.2L107.6,590.1L108.6,590.0L109.6,590.0L110.6,589.9L111.6,589.8L112.6,589.7L113.6,589.6L114.6,589.5L115.6,589.4L116.6,589.3L117.6,589.1L118.6,589.0L119.6,588.9L120.6,588.8L121.6,588.7L122.6,588.5L123.6,588.4L124.6,588.2L125.6,588.1L126.6,587.9L127.6,587.8L128.6,587.6L129.6,587.5L130.6,587.3L131.6,587.1L132.6,587.0L133.6,586.8L134.6,586.6L135.6,586.4L136.6,586.2L137.6,586.0L138.6,585.9L139.6,585.7L140.6,585.5L141.6,585.3L142.6,585.1L143.6,584.9L144.6,584.7L145.6,584.5L146.6,584.3L147.6,584.1L148.6,583.9L149.6,583.7L150.6,583.4L151.6,583.2L152.6,583.0L153.6,582.7L154.6,582.4L155.6,582.2L156.6,581.9L157.6,581.6L158.6,581.3L159.6,581.0L160.6,580.7L161.6,580.3L162.6,580.0L163.6,579.6L164.6,579.2L165.6,578.9L166.6,578.5L167.6,578.1L168.6,577.7L169.6,577.4L170.6,577.0L171.6,576.6L172.6,576.3L173.6,576.0L174.6,575.6L175.6,575.3L176.6,575.0L177.6,574.7L178.6,574.4L179.6,574.1L180.6,573.8L181.6,573.5L182.6,573.2L183.6,572.9L184.6,572.7L185.6,572.4L186.6,572.1L187.6,571.9L188.6,571.6L189.6,571.4L190.6,571.2L191.6,571.0L192.6,570.8L193.6,570.6L194.6,570.4L195.6,570.2L196.6,570.1L197.6,569.9L198.6,569.7L199.6,569.6L200.6,569.5L201.6,569.4L202.6,569.3L203.6,569.2L204.6,569.1L205.6,569.1L206.6,569.0L207.6,569.0L208.6,569.0L209.6,569.0L210.6,569.0L211.6,569.0L212.6,569.1L213.6,569.1L214.6,569.2L215.6,569.3L216.6,569.4L217.6,569.5L218.6,569.7L219.6,569.8L220.6,570.0L221.6,570.2L222.6,570.4L223.6,570.7L224.6,570.9L225.6,571.1L226.6,571.4L227.6,571.6L228.6,571.8L229.6,572.1L230.6,572.4L231.6,572.6L232.6,572.9L233.6,573.2L234.6,573.5L235.6,573.7L236.6,574.0L237.6,574.3L238.6,574.6L239.6,574.9L240.6,575.2L241.6,575.5L242.6,575.8L243.6,576.2L244.6,576.5L245.6,576.9L246.6,577.3L247.6,577.7L248.6,578.1L249.6,578.5L250.6,578.9L251.6,579.4L252.6,579.8L253.6,580.2L254.6,580.6L255.6,581.0L256.6,581.3L257.6,581.7L258.6,582.0L259.6,582.3L260.6,582.7L261.6,583.0L262.6,583.3L263.6,583.6L264.6,583.9L265.6,584.1L266.6,584.4L267.6,584.6L268.6,584.8L269.6,585.1L270.6,585.3L271.6,585.5L272.6,585.7L273.6,585.9L274.6,586.1L275.6,586.2L276.6,586.4L277.6,586.6L278.6,586.8L279.6,587.0L280.6,587.1L281.6,587.3L282.6,587.5L283.6,587.7L284.6,587.8L285.6,588.0L286.6,588.2L287.6,588.3L288.6,588.5L289.6,588.6L290.6,588.7L291.6,588.9L292.6,589.0L293.6,589.1L294.6,589.2L295.6,589.3L296.6,589.4L297.6,589.5L298.6,589.6L299.6,589.7L300.6,589.8L301.6,589.9L302.6,589.9L303.6,590.0L304.6,590.1L305.6,590.1L306.6,590.2L307.6,590.3L308.6,590.3L309.6,590.4L310.6,590.4L311.6,590.5L312.6,590.5L313.6,590.6L314.6,590.6L315.6,590.6L316.6,590.7L317.6,590.7L318.6,590.8L319.6,590.8L320.6,590.9L321.6,590.9L322.6,590.9L323.6,591.0L324.6,591.0L325.6,591.0L326.6,591.0L327.6,591.1L328.6,591.1L329.6,591.1L330.6,591.1L331.6,591.2L332.6,591.2L333.6,591.2L334.6,591.2L335.6,591.2L336.6,591.2L337.2,591.2" fill="none" stroke="#000000" stroke-width="7.0" stroke-linejoin="miter" stroke-linecap="butt" stroke-miterlimit="10"/><path d="M55.6,591.3L57.8,591.3L60.0,591.3L62.2,591.3L64.4,591.3L66.6,591.3L68.8,591.3L71.0,591.3L73.2,591.3L75.4,591.3L77.6,591.3L79.8,591.3L82.0,591.3L84.2,591.3L86.4,591.3L88.6,591.3L90.8,591.3L93.0,591.3L95.2,591.3L97.4,591.3L99.6,591.3L101.8,591.3L104.0,591.3L106.2,591.3L108.4,591.3L110.6,591.3L112.8,591.3L115.0,591.3L117.2,591.3L119.4,591.3L121.6,591.3L123.8,591.3L126.0,591.3L128.2,591.3L130.4,591.3L132.6,591.3L134.8,591.3L137.0,591.3L140.4,590.2L144.0,587.5L148.5,585.7L151.2,586.9L154.8,589.3L158.4,586.6L161.1,583.3L164.8,581.1L167.5,578.4L170.2,579.3L172.9,575.7L175.6,572.1L178.7,578.4L181.6,576.6L184.6,566.7L187.7,560.4L190.1,565.8L192.8,570.3L195.5,573.0L197.0,574.0L199.3,568.1L202.2,561.1L205.2,566.9L208.7,568.1L211.6,570.5L214.6,572.8L218.1,562.7L221.7,563.4L224.0,564.6L226.4,571.6L228.7,582.2L231.1,569.3L234.1,566.5L238.1,569.3L240.5,578.7L242.8,581.0L245.9,583.4L248.7,579.9L251.0,572.8L253.4,576.3L255.7,581.0L259.3,582.2L262.8,583.4L266.3,583.4L269.8,582.2L273.4,584.6L276.9,585.7L280.4,586.9L283.9,588.1L287.5,584.6L291.0,584.6L294.5,586.9L298.0,589.3L301.6,590.4L305.1,589.3L309.8,590.0L312.0,590.9L314.2,590.9L316.4,590.9L318.6,590.9L320.8,590.9L323.0,590.9L325.2,590.9L327.4,590.9L329.6,590.9L331.8,590.9L334.0,590.9L336.2,590.9" fill="none" stroke="#ff0000" stroke-width="2.3" stroke-linejoin="round" stroke-linecap="butt"/><path d="M55.6,591.3h0M57.8,591.3h0M60.0,591.3h0M62.2,591.3h0M64.4,591.3h0M66.6,591.3h0M68.8,591.3h0M71.0,591.3h0M73.2,591.3h0M75.4,591.3h0M77.6,591.3h0M79.8,591.3h0M82.0,591.3h0M84.2,591.3h0M86.4,591.3h0M88.6,591.3h0M90.8,591.3h0M93.0,591.3h0M95.2,591.3h0M97.4,591.3h0M99.6,591.3h0M101.8,591.3h0M104.0,591.3h0M106.2,591.3h0M108.4,591.3h0M110.6,591.3h0M112.8,591.3h0M115.0,591.3h0M117.2,591.3h0M119.4,591.3h0M121.6,591.3h0M123.8,591.3h0M126.0,591.3h0M128.2,591.3h0M130.4,591.3h0M132.6,591.3h0M134.8,591.3h0M137.0,591.3h0M140.4,590.2h0M144.0,587.5h0M148.5,585.7h0M151.2,586.9h0M154.8,589.3h0M158.4,586.6h0M161.1,583.3h0M164.8,581.1h0M167.5,578.4h0M170.2,579.3h0M172.9,575.7h0M175.6,572.1h0M178.7,578.4h0M181.6,576.6h0M184.6,566.7h0M187.7,560.4h0M190.1,565.8h0M192.8,570.3h0M195.5,573.0h0M197.0,574.0h0M199.3,568.1h0M202.2,561.1h0M205.2,566.9h0M208.7,568.1h0M211.6,570.5h0M214.6,572.8h0M218.1,562.7h0M221.7,563.4h0M224.0,564.6h0M226.4,571.6h0M228.7,582.2h0M231.1,569.3h0M234.1,566.5h0M238.1,569.3h0M240.5,578.7h0M242.8,581.0h0M245.9,583.4h0M248.7,579.9h0M251.0,572.8h0M253.4,576.3h0M255.7,581.0h0M259.3,582.2h0M262.8,583.4h0M266.3,583.4h0M269.8,582.2h0M273.4,584.6h0M276.9,585.7h0M280.4,586.9h0M283.9,588.1h0M287.5,584.6h0M291.0,584.6h0M294.5,586.9h0M298.0,589.3h0M301.6,590.4h0M305.1,589.3h0M309.8,590.0h0M312.0,590.9h0M314.2,590.9h0M316.4,590.9h0M318.6,590.9h0M320.8,590.9h0M323.0,590.9h0M325.2,590.9h0M327.4,590.9h0M329.6,590.9h0M331.8,590.9h0M334.0,590.9h0M336.2,590.9h0" fill="none" stroke="#ff0000" stroke-width="5.40" stroke-linecap="round"/><path d="M101.7,534.5L102.7,533.8L103.7,533.1L104.7,532.3L105.7,531.6L106.7,530.9L107.7,530.2L108.7,529.5L109.7,528.8L110.7,528.1L111.7,527.4L112.7,526.7L113.7,526.0L114.7,525.3L115.7,524.6L116.7,523.9L117.7,523.2L118.7,522.5L119.7,521.8L120.7,521.2L121.7,520.5L122.7,519.8L123.7,519.1L124.7,518.5L125.7,517.8L126.7,517.2L127.7,516.6L128.7,516.0L129.7,515.5L130.7,514.9L131.7,514.4L132.7,513.8L133.7,513.3L134.7,512.8L135.7,512.3L136.7,511.8L137.7,511.3L138.7,510.8L139.7,510.4L140.7,509.9L141.7,509.5L142.7,509.1L143.7,508.6L144.7,508.2L145.7,507.9L146.7,507.5L147.7,507.1L148.7,506.8L149.7,506.4L150.7,506.1L151.7,505.8L152.7,505.5L153.7,505.1L154.7,504.8L155.7,504.5L156.7,504.2L157.7,504.0L158.7,503.7L159.7,503.4L160.7,503.2L161.7,502.9L162.7,502.6L163.7,502.4L164.7,502.1L165.7,501.9L166.7,501.6L167.7,501.4L168.7,501.1L169.7,500.9L170.7,500.7L171.7,500.4L172.7,500.2L173.7,500.0L174.7,499.7L175.7,499.5L176.7,499.3L177.7,499.1L178.7,498.9L179.7,498.7L180.7,498.5L181.7,498.3L182.7,498.1L183.7,497.9L184.7,497.7L185.7,497.5L186.7,497.3L187.7,497.2L188.7,497.0L189.7,496.9L190.7,496.7L191.7,496.6L192.7,496.4L193.7,496.3L194.7,496.2L195.7,496.1L196.7,496.0L197.7,495.9L198.7,495.9L199.7,495.8L200.7,495.7L201.7,495.6L202.7,495.6L203.7,495.5L204.7,495.4L205.7,495.4L206.7,495.3L207.7,495.2L208.7,495.2L209.7,495.1L210.7,495.1L211.7,495.0L212.7,494.9L213.7,494.9L214.7,494.8L215.7,494.8L216.7,494.8L217.7,494.7L218.7,494.7L219.7,494.6L220.7,494.6L221.7,494.6L222.7,494.5L223.7,494.5L224.7,494.4L225.7,494.4L226.7,494.4L227.7,494.3L228.7,494.3L229.7,494.3L230.7,494.2L231.7,494.2L232.7,494.2L233.7,494.1L234.7,494.1L235.7,494.1L236.7,494.1L237.7,494.0L238.7,494.0L239.7,494.0L240.7,494.0L241.7,493.9L242.7,493.9L243.7,493.9L244.7,493.9L245.7,493.9L246.7,493.9L247.7,493.8L248.7,493.8L249.7,493.8L250.7,493.8L251.7,493.8L252.7,493.8L253.7,493.8L254.7,493.8L255.7,493.7L256.7,493.7L257.7,493.7L258.7,493.7L259.7,493.7L260.7,493.7L261.7,493.7L262.7,493.7L263.7,493.6L264.7,493.6L265.7,493.6L266.7,493.6L267.7,493.6L268.7,493.6L269.7,493.6L270.7,493.6L271.7,493.6L272.7,493.5L273.7,493.5L274.7,493.5L275.7,493.5L276.7,493.5L277.7,493.5L278.7,493.5L279.7,493.5L280.7,493.5L281.7,493.5L282.7,493.5L283.7,493.4L284.7,493.4L285.7,493.4L286.7,493.4L287.7,493.4L288.7,493.4L289.7,493.4L290.7,493.4L291.7,493.4L292.7,493.4L293.7,493.4L294.7,493.4L295.7,493.4L296.7,493.4L297.7,493.4L298.7,493.4L299.7,493.3L300.7,493.3L301.7,493.3L302.7,493.3L303.7,493.3L304.7,493.3L305.7,493.3L306.7,493.3L307.7,493.3L308.7,493.3L309.7,493.3L310.7,493.3L311.7,493.3L312.7,493.3L313.7,493.3L314.7,493.3L315.7,493.3L316.7,493.3L317.7,493.3L318.7,493.3L319.7,493.2L320.7,493.2L321.7,493.2L322.7,493.2L323.7,493.2L324.7,493.2L325.7,493.2L326.7,493.2L327.7,493.2L328.7,493.2L329.7,493.2L330.7,493.2L331.7,493.2L332.7,493.2L333.7,493.2L334.7,493.2L335.7,493.2L336.7,493.2L337.7,493.2L338.0,493.2" fill="none" stroke="#000000" stroke-width="1.9" stroke-linejoin="round" stroke-linecap="butt" stroke-dasharray="3.4 1.57"/><path d="M55.6,462.7L56.6,471.0L57.6,478.4L58.6,484.7L59.6,490.1L60.6,494.9L61.6,499.1L62.6,502.6L63.6,506.1L64.6,509.4L65.6,512.5L66.6,515.5L67.6,518.4L68.6,521.2L69.6,523.8L70.6,526.2L71.6,528.3L72.6,530.1L73.6,531.7L74.6,533.2L75.6,534.4L76.6,535.6L77.6,536.6L78.6,537.5L79.6,538.2L80.6,538.7L81.6,539.2L82.6,539.6L83.6,539.8L84.6,540.0L85.6,540.0L86.6,539.9L87.6,539.9L88.6,539.8L89.6,539.7L90.6,539.5L91.6,539.4L92.6,539.2L93.6,539.0L94.6,538.7L95.6,538.5L96.6,538.3L97.6,538.1L98.6,537.9L99.6,537.8L100.6,537.7L101.6,537.6L102.6,537.5L103.6,537.5L104.6,537.4L105.6,537.4L106.6,537.5L107.6,537.5L108.6,537.6L109.6,537.7L110.6,537.8L111.6,538.0L112.6,538.1L113.6,538.2L114.6,538.4L115.6,538.5L116.6,538.5L117.6,538.5L118.6,538.5L119.6,538.6L120.6,538.6L121.6,538.6L122.6,538.6L123.6,538.6L124.6,538.6L125.6,538.6L126.6,538.6L127.6,538.6L128.6,538.6L129.6,538.6L130.6,538.6L131.6,538.7L132.6,538.7L133.6,538.8L134.6,538.9L135.6,539.1L136.6,539.3L137.6,539.5L138.6,539.7L139.6,540.0L140.6,540.2L141.6,540.5L142.6,540.7L143.6,541.0L144.6,541.2L145.6,541.4L146.6,541.7L147.6,541.9L148.6,542.2L149.6,542.4L150.6,542.7L151.6,542.9L152.6,543.2L153.6,543.5L154.6,543.8L155.6,544.1L156.6,544.5L157.6,544.9L158.6,545.3L159.6,545.7L160.6,546.1L161.6,546.5L162.6,546.8L163.6,547.2L164.6,547.5L165.6,547.9L166.6,548.2L167.6,548.5L168.6,548.8L169.6,549.0L170.6,549.2L171.6,549.3L172.6,549.3L173.6,549.3L174.6,549.2L175.6,549.0L176.6,548.7L177.6,548.5L178.6,548.2L179.6,547.9L180.6,547.6L181.6,547.3L182.6,547.1L183.6,546.9L184.6,546.6L185.6,546.4L186.6,546.2L187.6,546.0L188.6,545.9L189.6,545.7L190.6,545.5L191.6,545.4L192.6,545.3L193.6,545.3L194.6,545.4L195.6,545.6L196.6,545.9L197.6,546.3L198.6,546.7L199.6,547.1L200.6,547.7L201.6,548.3L202.6,549.0L203.6,549.7L204.6,550.4L205.6,551.1L206.6,551.7L207.6,552.3L208.6,552.8L209.6,553.1L210.6,553.5L211.6,553.9L212.6,554.3L213.6,554.6L214.6,554.9L215.6,555.2L216.6,555.5L217.6,555.8L218.6,556.0L219.6,556.2L220.6,556.4L221.6,556.6L222.6,556.7L223.6,556.9L224.6,557.1L225.6,557.2L226.6,557.4L227.6,557.6L228.6,557.7L229.6,557.9L230.6,558.0L231.6,558.2L232.6,558.4L233.6,558.5L234.6,558.7L235.6,558.9L236.6,559.0L237.6,559.2L238.6,559.4L239.6,559.5L240.6,559.7L241.6,559.9L242.6,560.0L243.6,560.2L244.6,560.4L245.6,560.6L246.6,560.7L247.6,560.9L248.6,561.1L249.6,561.3L250.6,561.5L251.6,561.8L252.6,562.2L253.6,562.5L254.6,562.9L255.6,563.3L256.6,563.7L257.6,564.1L258.6,564.5L259.6,564.9L260.6,565.2L261.6,565.5L262.6,565.8L263.6,566.0L264.6,566.2L265.6,566.4L266.6,566.6L267.6,566.9L268.6,567.1L269.6,567.3L270.6,567.5L271.6,567.7L272.6,567.9L273.6,568.1L274.6,568.3L275.6,568.5L276.6,568.7L277.6,568.9L278.6,569.1L279.6,569.3L280.6,569.5L281.6,569.7L282.6,569.9L283.6,570.1L284.6,570.3L285.6,570.5L286.6,570.7L287.6,570.9L288.6,571.1L289.6,571.3L290.6,571.5L291.6,571.7L292.6,571.9L293.6,572.1L294.6,572.4L295.6,572.6L296.6,572.8L297.6,573.0L298.6,573.2L299.6,573.5L300.6,573.7L301.6,573.9L302.6,574.1L303.6,574.4L304.6,574.6L305.6,574.8L306.6,575.0L307.6,575.3L308.6,575.5L309.6,575.8L310.6,576.1L311.6,576.3L312.6,576.6L313.6,576.9L314.6,577.1L315.6,577.4L316.6,577.6L317.6,577.8L318.6,578.1L319.6,578.3L320.6,578.5L321.6,578.7L322.6,578.8L323.6,579.0L324.6,579.1L325.6,579.3L326.6,579.4L327.6,579.5L328.6,579.6L329.6,579.8L330.6,579.9L331.6,580.0L332.6,580.1L333.6,580.2L334.6,580.3L335.6,580.4L336.6,580.5L337.6,580.6L338.0,580.6" fill="none" stroke="#0000ff" stroke-width="7.0" stroke-linejoin="round" stroke-linecap="butt"/><path d="M55.2,527.1L55.9,519.0L57.7,507.2L59.6,514.6L62.6,523.4L65.5,535.2L68.5,542.6L69.5,542.8L70.5,542.9L71.5,543.0L72.5,543.0L73.5,542.9L74.5,542.8L75.5,542.7L76.5,542.5L77.5,542.3L78.5,542.1L79.5,541.9L80.5,541.7L81.5,541.4L82.5,541.1L83.5,540.9L84.5,540.6L85.5,540.4L86.5,540.2L87.5,540.0L88.5,539.9L89.5,539.7L90.5,539.6L91.5,539.4L92.5,539.2L93.5,539.0L94.5,538.8L95.5,538.6L96.5,538.3L97.5,538.1L98.5,538.0L99.5,537.8L100.5,537.7L101.5,537.6L102.5,537.5L103.5,537.4L104.5,537.4L105.5,537.4L106.5,537.5L107.5,537.5L108.5,537.6L109.5,537.7L110.5,537.8L111.5,537.9L112.5,538.1L113.5,538.2L114.5,538.3L115.5,538.4L116.5,538.5L117.5,538.5L118.5,538.5L119.5,538.6L120.5,538.6L121.5,538.6L122.5,538.6L123.5,538.6L124.5,538.6L125.5,538.6L126.5,538.6L127.5,538.6L128.5,538.6L129.5,538.6L130.5,538.6L131.5,538.7L132.5,538.7L133.5,538.8L134.5,538.9L135.5,539.1L136.5,539.3L137.5,539.5L138.5,539.7L139.5,539.9L140.5,540.2L141.5,540.4L142.5,540.7L143.5,540.9L144.5,541.2L145.5,541.4L146.5,541.7L147.5,541.9L148.5,542.2L149.5,542.4L150.5,542.7L151.5,542.9L152.5,543.2L153.5,543.4L154.5,543.7L155.5,544.1L156.5,544.4L157.5,544.8L158.5,545.3L159.5,545.7L160.5,546.1L161.5,546.4L162.5,546.8L163.5,547.1L164.5,547.5L165.5,547.9L166.5,548.2L167.5,548.5L168.5,548.8L169.5,549.0L170.5,549.2L171.5,549.3L172.5,549.3L173.5,549.3L174.5,549.2L175.5,549.0L176.5,548.8L177.5,548.5L178.5,548.2L179.5,547.9L180.5,547.6L181.5,547.3L182.5,547.1L183.5,546.9L184.5,546.7L185.5,546.5L186.5,546.3L187.5,546.1L188.5,545.9L189.5,545.7L190.5,545.5L191.5,545.4L192.5,545.3L193.5,545.3L194.5,545.4L195.5,545.6L196.5,545.9L197.5,546.2L198.5,546.6L199.5,547.1L200.5,547.6L201.5,548.2L202.5,548.9L203.5,549.6L204.5,550.3L205.5,551.0L206.5,551.7L207.5,552.2L208.5,552.7L209.5,553.1L210.5,553.5L211.5,553.9L212.5,554.2L213.5,554.6L214.5,554.9L215.5,555.2L216.5,555.5L217.5,555.8L218.5,556.0L219.5,556.2L220.5,556.4L221.5,556.6L222.5,556.7L223.5,556.9L224.5,557.1L225.5,557.2L226.5,557.4L227.5,557.5L228.5,557.7L229.5,557.9L230.5,558.0L231.5,558.2L232.5,558.4L233.5,558.5L234.5,558.7L235.5,558.8L236.5,559.0L237.5,559.2L238.5,559.3L239.5,559.5L240.5,559.7L241.5,559.9L242.5,560.0L243.5,560.2L244.5,560.4L245.5,560.5L246.5,560.7L247.5,560.9L248.5,561.1L249.5,561.3L250.5,561.5L251.5,561.8L252.5,562.1L253.5,562.5L254.5,562.9L255.5,563.3L256.5,563.7L257.5,564.1L258.5,564.5L259.5,564.8L260.5,565.2L261.5,565.5L262.5,565.7L263.5,566.0L264.5,566.2L265.5,566.4L266.5,566.6L267.5,566.8L268.5,567.0L269.5,567.3L270.5,567.5L271.5,567.7L272.5,567.9L273.5,568.1L274.5,568.3L275.5,568.5L276.5,568.7L277.5,568.9L278.5,569.1L279.5,569.3L280.5,569.5L281.5,569.7L282.5,569.9L283.5,570.1L284.5,570.3L285.5,570.5L286.5,570.7L287.5,570.9L288.5,571.1L289.5,571.3L290.5,571.5L291.5,571.7L292.5,571.9L293.5,572.1L294.5,572.3L295.5,572.6L296.5,572.8L297.5,573.0L298.5,573.2L299.5,573.4L300.5,573.7L301.5,573.9L302.5,574.1L303.5,574.3L304.5,574.6L305.5,574.8L306.5,575.0L307.5,575.3L308.5,575.5L309.5,575.8L310.5,576.0L311.5,576.3L312.5,576.6L313.5,576.8L314.5,577.1L315.5,577.3L316.5,577.6L317.5,577.8L318.5,578.1L319.5,578.3L320.5,578.5L321.5,578.6L322.5,578.8L323.5,579.0L324.5,579.1L325.5,579.3L326.5,579.4L327.5,579.5L328.5,579.6L329.5,579.7L330.5,579.9L331.5,580.0L332.5,580.1L333.5,580.2L334.5,580.3L335.5,580.4L336.5,580.5L337.5,580.6L338.0,580.6" fill="none" stroke="#00ff00" stroke-width="3.9" stroke-linejoin="miter" stroke-linecap="butt" stroke-dasharray="3.3 1.67"/>
</g>
<path d="M55.60,420.40H337.20V591.30H55.60Z" fill="none" stroke="#000" stroke-width="1.15"/>
<text transform="translate(41.40,510.80) scale(0.806,1)" font-size="22" text-anchor="end">1</text>
<text transform="translate(42.60,598.70) scale(0.806,1)" font-size="22" text-anchor="end">0</text>
<text transform="translate(350.20,470.40) scale(0.806,1)" font-size="22" text-anchor="start">-0.6</text>
<text transform="translate(350.20,555.00) scale(0.806,1)" font-size="22" text-anchor="start">-0.8</text>
<text transform="translate(19.80,505.35) rotate(-90) scale(0.806,1)" font-size="22" text-anchor="middle">Nuclear density (R)</text>
<text transform="translate(407.20,505.35) rotate(-90) scale(0.806,1)" font-size="22" text-anchor="middle">Potential (R)(a.u.)</text>
<text transform="translate(111.60,440.70) scale(0.805,1)" font-size="22" text-anchor="start">t = 18.6 fs</text>
<text transform="translate(74.70,619.80) scale(0.806,1)" font-size="22" text-anchor="middle">2</text>
<text transform="translate(122.82,619.80) scale(0.806,1)" font-size="22" text-anchor="middle">4</text>
<text transform="translate(170.94,619.80) scale(0.806,1)" font-size="22" text-anchor="middle">6</text>
<text transform="translate(219.06,619.80) scale(0.806,1)" font-size="22" text-anchor="middle">8</text>
<text transform="translate(267.18,619.80) scale(0.806,1)" font-size="22" text-anchor="middle">10</text>
<text transform="translate(315.30,619.80) scale(0.806,1)" font-size="22" text-anchor="middle">12</text>
<text transform="translate(196.40,636.80) scale(0.806,1)" font-size="22" text-anchor="middle">R (a.u.)</text>
<clipPath id="c10"><rect x="473.70" y="34.10" width="282.40" height="186.80"/></clipPath>
<path d="M514.30,34.60v5M514.30,217.40v-5M594.74,34.60v5M594.74,217.40v-5M675.18,34.60v5M675.18,217.40v-5M474.20,123.50h5M755.60,123.50h-5M755.60,86.50h-5M755.60,191.30h-5" fill="none" stroke="#000" stroke-width="1.15"/>
<g id="p10">
<path d="M474.2,217.4L475.7,217.4L477.2,217.4L478.7,217.4L480.2,217.4L481.7,217.4L483.2,217.4L484.7,217.4L486.2,217.4L487.7,217.4L489.2,217.4L490.7,217.4L492.2,217.4L493.7,217.4L495.2,217.4L496.7,217.4L498.2,217.4L499.7,217.4L501.2,217.3L502.7,217.3L504.2,217.2L505.7,217.1L507.2,216.9L508.7,216.5L510.2,216.0L511.7,215.1L513.2,213.9L514.7,212.1L516.2,209.5L517.7,206.0L519.2,201.3L520.7,195.2L522.2,187.5L523.7,178.3L525.2,167.3L526.7,154.8L528.2,141.2L529.7,126.7L531.2,112.2L532.7,98.2L534.2,85.7L535.7,75.3L537.2,67.8L538.7,63.8L540.2,63.4L541.7,66.7L543.2,73.6L544.7,83.4L546.2,95.6L547.7,109.3L549.2,123.8L550.7,138.3L552.2,152.2L553.7,164.9L555.2,176.2L556.7,185.8L558.2,193.8L559.7,200.2L561.2,205.1L562.7,208.9L564.2,211.6L565.7,213.6L567.2,214.9L568.7,215.8L570.2,216.4L571.7,216.8L573.2,217.1L574.7,217.2L576.2,217.3L577.7,217.3L579.2,217.4L580.7,217.4L582.2,217.4L583.7,217.4L585.2,217.4L586.7,217.4L588.2,217.4L589.7,217.4L591.2,217.4L592.7,217.4L594.2,217.4L595.7,217.4L597.2,217.4L598.7,217.4L600.2,217.4L601.7,217.4L603.2,217.4L604.7,217.4L606.2,217.4L607.7,217.4L609.2,217.4L610.7,217.4L612.2,217.4L613.7,217.4L615.2,217.4L616.7,217.4L618.2,217.4L619.7,217.4L621.2,217.4L622.7,217.4L624.2,217.4L625.7,217.4L627.2,217.4L628.7,217.4L630.2,217.4L631.7,217.4L633.2,217.4L634.7,217.4L636.2,217.4L637.7,217.4L639.2,217.4L640.7,217.4L642.2,217.4L643.7,217.4L645.2,217.4L646.7,217.4L648.2,217.4L649.7,217.4L651.2,217.4L652.7,217.4L654.2,217.4L655.7,217.4L657.2,217.4L658.7,217.4L660.2,217.4L661.7,217.4L663.2,217.4L664.7,217.4L666.2,217.4L667.7,217.4L669.2,217.4L670.7,217.4L672.2,217.4L673.7,217.4L675.2,217.4L676.7,217.4L678.2,217.4L679.7,217.4L681.2,217.4L682.7,217.4L684.2,217.4L685.7,217.4L687.2,217.4L688.7,217.4L690.2,217.4L691.7,217.4L693.2,217.4L694.7,217.4L696.2,217.4L697.7,217.4L699.2,217.4L700.7,217.4L702.2,217.4L703.7,217.4L705.2,217.4L706.7,217.4L708.2,217.4L709.7,217.4L711.2,217.4L712.7,217.4L714.2,217.4L715.7,217.4L717.2,217.4L718.7,217.4L720.2,217.4L721.7,217.4L723.2,217.4L724.7,217.4L726.2,217.4L727.7,217.4L729.2,217.4L730.7,217.4L732.2,217.4L733.7,217.4L735.2,217.4L736.7,217.4L738.2,217.4L739.7,217.4L741.2,217.4L742.7,217.4L744.2,217.4L745.7,217.4L747.2,217.4L748.7,217.4L750.2,217.4L751.7,217.4L753.2,217.4L754.7,217.4" fill="none" stroke="#000000" stroke-width="7.0" stroke-linejoin="miter" stroke-linecap="butt" stroke-miterlimit="10"/><path d="M474.7,217.4L476.9,217.4L479.1,217.4L481.3,217.4L483.5,217.4L485.7,217.4L487.9,217.4L490.1,217.4L492.3,217.4L494.5,217.4L496.7,217.4L498.9,217.4L501.1,217.3L503.3,217.3L505.5,217.1L507.7,216.8L509.9,216.1L512.1,214.8L514.3,212.6L516.5,208.8L518.7,202.8L520.9,194.0L523.1,181.9L525.3,166.1L527.5,147.0L529.7,125.9L531.9,104.5L534.1,84.2L536.0,65.2L538.3,70.2L540.3,60.1L542.6,66.3L544.2,84.6L546.5,93.9L548.7,118.0L550.9,139.5L553.1,159.5L555.3,176.5L557.5,190.0L559.7,200.0L561.9,206.9L564.1,211.4L566.3,214.1L568.5,215.7L570.7,216.6L572.9,217.0L575.1,217.2L577.3,217.3L579.5,217.4L581.7,217.4L583.9,217.4L586.1,217.4L588.3,217.4L590.5,217.4L592.7,217.4L594.9,217.4L597.1,217.4L599.3,217.4L601.5,217.4L603.7,217.4L605.9,217.4L608.1,217.4L610.3,217.4L612.5,217.4L614.7,217.4L616.9,217.4L619.1,217.4L621.3,217.4L623.5,217.4L625.7,217.4L627.9,217.4L630.1,217.4L632.3,217.4L634.5,217.4L636.7,217.4L638.9,217.4L641.1,217.4L643.3,217.4L645.5,217.4L647.7,217.4L649.9,217.4L652.1,217.4L654.3,217.4L656.5,217.4L658.7,217.4L660.9,217.4L663.1,217.4L665.3,217.4L667.5,217.4L669.7,217.4L671.9,217.4L674.1,217.4L676.3,217.4L678.5,217.4L680.7,217.4L682.9,217.4L685.1,217.4L687.3,217.4L689.5,217.4L691.7,217.4L693.9,217.4L696.1,217.4L698.3,217.4L700.5,217.4L702.7,217.4L704.9,217.4L707.1,217.4L709.3,217.4L711.5,217.4L713.7,217.4L715.9,217.4L718.1,217.4L720.3,217.4L722.5,217.4L724.7,217.4L726.9,217.4L729.1,217.4L731.3,217.4L733.5,217.4L735.7,217.4L737.9,217.4L740.1,217.4L742.3,217.4L744.5,217.4L746.7,217.4L748.9,217.4L751.1,217.4L753.3,217.4L755.5,217.4" fill="none" stroke="#ff0000" stroke-width="2.3" stroke-linejoin="round" stroke-linecap="butt"/><path d="M474.7,217.4h0M476.9,217.4h0M479.1,217.4h0M481.3,217.4h0M483.5,217.4h0M485.7,217.4h0M487.9,217.4h0M490.1,217.4h0M492.3,217.4h0M494.5,217.4h0M496.7,217.4h0M498.9,217.4h0M501.1,217.3h0M503.3,217.3h0M505.5,217.1h0M507.7,216.8h0M509.9,216.1h0M512.1,214.8h0M514.3,212.6h0M516.5,208.8h0M518.7,202.8h0M520.9,194.0h0M523.1,181.9h0M525.3,166.1h0M527.5,147.0h0M529.7,125.9h0M531.9,104.5h0M534.1,84.2h0M536.0,65.2h0M538.3,70.2h0M540.3,60.1h0M542.6,66.3h0M544.2,84.6h0M546.5,93.9h0M548.7,118.0h0M550.9,139.5h0M553.1,159.5h0M555.3,176.5h0M557.5,190.0h0M559.7,200.0h0M561.9,206.9h0M564.1,211.4h0M566.3,214.1h0M568.5,215.7h0M570.7,216.6h0M572.9,217.0h0M575.1,217.2h0M577.3,217.3h0M579.5,217.4h0M581.7,217.4h0M583.9,217.4h0M586.1,217.4h0M588.3,217.4h0M590.5,217.4h0M592.7,217.4h0M594.9,217.4h0M597.1,217.4h0M599.3,217.4h0M601.5,217.4h0M603.7,217.4h0M605.9,217.4h0M608.1,217.4h0M610.3,217.4h0M612.5,217.4h0M614.7,217.4h0M616.9,217.4h0M619.1,217.4h0M621.3,217.4h0M623.5,217.4h0M625.7,217.4h0M627.9,217.4h0M630.1,217.4h0M632.3,217.4h0M634.5,217.4h0M636.7,217.4h0M638.9,217.4h0M641.1,217.4h0M643.3,217.4h0M645.5,217.4h0M647.7,217.4h0M649.9,217.4h0M652.1,217.4h0M654.3,217.4h0M656.5,217.4h0M658.7,217.4h0M660.9,217.4h0M663.1,217.4h0M665.3,217.4h0M667.5,217.4h0M669.7,217.4h0M671.9,217.4h0M674.1,217.4h0M676.3,217.4h0M678.5,217.4h0M680.7,217.4h0M682.9,217.4h0M685.1,217.4h0M687.3,217.4h0M689.5,217.4h0M691.7,217.4h0M693.9,217.4h0M696.1,217.4h0M698.3,217.4h0M700.5,217.4h0M702.7,217.4h0M704.9,217.4h0M707.1,217.4h0M709.3,217.4h0M711.5,217.4h0M713.7,217.4h0M715.9,217.4h0M718.1,217.4h0M720.3,217.4h0M722.5,217.4h0M724.7,217.4h0M726.9,217.4h0M729.1,217.4h0M731.3,217.4h0M733.5,217.4h0M735.7,217.4h0M737.9,217.4h0M740.1,217.4h0M742.3,217.4h0M744.5,217.4h0M746.7,217.4h0M748.9,217.4h0M751.1,217.4h0M753.3,217.4h0M755.5,217.4h0" fill="none" stroke="#ff0000" stroke-width="5.40" stroke-linecap="round"/><path d="M657.2,138.5L658.2,138.2L659.2,138.0L660.2,137.7L661.2,137.4L662.2,137.2L663.2,136.9L664.2,136.7L665.2,136.4L666.2,136.2L667.2,135.9L668.2,135.7L669.2,135.4L670.2,135.2L671.2,135.0L672.2,134.7L673.2,134.5L674.2,134.3L675.2,134.1L676.2,133.8L677.2,133.6L678.2,133.4L679.2,133.2L680.2,133.0L681.2,132.8L682.2,132.6L683.2,132.4L684.2,132.2L685.2,132.0L686.2,131.9L687.2,131.7L688.2,131.5L689.2,131.4L690.2,131.2L691.2,131.0L692.2,130.9L693.2,130.7L694.2,130.6L695.2,130.5L696.2,130.3L697.2,130.2L698.2,130.1L699.2,129.9L700.2,129.8L701.2,129.7L702.2,129.6L703.2,129.5L704.2,129.4L705.2,129.2L706.2,129.1L707.2,129.0L708.2,128.9L709.2,128.8L710.2,128.7L711.2,128.6L712.2,128.5L713.2,128.4L714.2,128.3L715.2,128.2L716.2,128.1L717.2,128.0L718.2,128.0L719.2,127.9L720.2,127.8L721.2,127.7L722.2,127.6L723.2,127.5L724.2,127.4L725.2,127.4L726.2,127.3L727.2,127.2L728.2,127.1L729.2,127.0L730.2,127.0L731.2,126.9L732.2,126.8L733.2,126.7L734.2,126.6L735.2,126.6L736.2,126.5L737.2,126.4L738.2,126.3L739.2,126.3L740.2,126.2L741.2,126.1L742.2,126.1L743.2,126.0L744.2,125.9L745.2,125.9L746.2,125.8L747.2,125.7L748.2,125.7L749.2,125.6L750.2,125.5L751.2,125.5L752.2,125.4L753.2,125.3L754.2,125.3L755.2,125.2L755.6,125.2" fill="none" stroke="#000000" stroke-width="1.9" stroke-linejoin="round" stroke-linecap="butt" stroke-dasharray="3.4 1.57"/><path d="M477.6,34.6L478.5,40.8L479.5,47.5L480.5,54.2L481.5,60.9L482.5,67.7L483.5,74.4L484.5,81.1L485.5,87.8L486.5,94.0L487.5,99.1L488.5,103.3L489.5,107.1L490.5,110.5L491.5,114.1L492.5,117.9L493.5,121.6L494.5,125.4L495.5,129.0L496.5,132.4L497.5,135.7L498.5,138.8L499.5,141.7L500.5,144.4L501.5,147.0L502.5,149.5L503.5,151.9L504.5,154.2L505.5,156.4L506.5,158.4L507.5,160.1L508.5,161.7L509.5,163.2L510.5,164.7L511.5,166.0L512.5,167.3L513.5,168.6L514.5,169.9L515.5,171.1L516.5,172.3L517.5,173.4L518.5,174.5L519.5,175.4L520.5,176.2L521.5,176.8L522.5,177.4L523.5,177.9L524.5,178.4L525.5,178.7L526.5,179.1L527.5,179.3L528.5,179.6L529.5,179.8L530.5,180.1L531.5,180.3L532.5,180.4L533.5,180.6L534.5,180.7L535.5,180.8L536.5,180.9L537.5,180.9L538.5,180.9L539.5,180.9L540.5,180.8L541.5,180.8L542.5,180.6L543.5,180.5L544.5,180.3L545.5,180.1L546.5,179.9L547.5,179.7L548.5,179.4L549.5,179.2L550.5,178.9L551.5,178.6L552.5,178.4L553.5,178.1L554.5,177.8L555.5,177.5L556.5,177.2L557.5,176.9L558.5,176.7L559.5,176.4L560.5,176.0L561.5,175.7L562.5,175.4L563.5,175.1L564.5,174.8L565.5,174.5L566.5,174.1L567.5,173.7L568.5,173.3L569.5,172.9L570.5,172.5L571.5,172.0L572.5,171.6L573.5,171.1L574.5,170.7L575.5,170.2L576.5,169.7L577.5,169.3L578.5,168.8L579.5,168.3L580.5,167.9L581.5,167.4L582.5,166.9L583.5,166.5L584.5,166.0L585.5,165.6L586.5,165.1L587.5,164.7L588.5,164.2L589.5,163.8L590.5,163.3L591.5,162.9L592.5,162.4L593.5,162.0L594.5,161.5L595.5,161.1L596.5,160.6L597.5,160.2L598.5,159.8L599.5,159.3L600.5,158.9L601.5,158.4L602.5,158.0L603.5,157.5L604.5,157.1L605.5,156.7L606.5,156.2L607.5,155.8L608.5,155.4L609.5,154.9L610.5,154.5L611.5,154.1L612.5,153.6L613.5,153.2L614.5,152.8L615.5,152.4L616.5,152.0L617.5,151.5L618.5,151.1L619.5,150.7L620.5,150.3L621.5,149.9L622.5,149.5L623.5,149.1L624.5,148.7L625.5,148.3L626.5,147.9L627.5,147.5L628.5,147.1L629.5,146.7L630.5,146.3L631.5,146.0L632.5,145.6L633.5,145.2L634.5,144.8L635.5,144.5L636.5,144.1L637.5,143.8L638.5,143.4L639.5,143.1L640.5,142.8L641.5,142.5L642.5,142.2L643.5,141.9L644.5,141.6L645.5,141.3L646.5,141.0L647.5,140.8L648.5,140.5L649.5,140.2L650.5,140.0L651.5,139.8L652.5,139.5L653.5,139.3L654.5,139.0L655.5,138.8L656.5,138.6L657.2,138.5" fill="none" stroke="#0000ff" stroke-width="7.0" stroke-linejoin="round" stroke-linecap="butt"/><path d="M474.6,198.9L475.6,196.5L476.6,194.2L477.6,192.2L478.6,190.4L479.6,188.8L480.6,187.3L481.6,186.0L482.6,184.9L483.6,183.8L484.6,182.9L485.6,182.1L486.6,181.5L487.6,181.1L488.6,180.7L489.6,180.4L490.6,180.1L491.6,179.9L492.6,179.8L493.6,179.7L494.6,179.6L495.6,179.5L496.6,179.5L497.6,179.4L498.6,179.3L499.6,179.3L500.6,179.3L501.6,179.3L502.6,179.3L503.6,179.3L504.6,179.3L505.6,179.3L506.6,179.3L507.6,179.3L508.6,179.3L509.6,179.3L510.6,179.3L511.6,179.3L512.6,179.3L513.6,179.3L514.6,179.3L515.6,179.3L516.6,179.3L517.6,179.3L518.6,179.3L519.6,179.3L520.6,179.3L521.6,179.3L522.6,179.3L523.6,179.4L524.6,179.4L525.6,179.4L526.6,179.4L527.6,179.4L528.6,179.4L529.6,179.4L530.6,179.4L531.6,179.4L532.6,179.4L533.6,179.4L534.6,179.4L535.6,179.4L536.6,179.5L537.6,179.5L538.6,179.5L539.6,179.5L540.6,179.5L541.6,179.5L542.6,179.5L543.6,179.5L544.6,179.5L545.6,179.5L546.6,179.5L547.6,179.5L548.6,179.5L549.6,179.5L550.6,179.5L551.6,179.5L552.6,179.5L553.6,179.5L554.6,179.5L555.6,179.5L556.6,179.5L557.6,179.5L558.6,179.5L559.6,179.5L560.6,179.5L561.6,179.5L562.6,179.5L563.6,179.5L564.6,179.5L565.6,179.5L566.6,179.5L567.6,179.5L568.6,179.5L569.6,179.5L570.6,179.5L571.6,179.5L572.6,179.5L573.6,179.5L574.6,179.5L575.6,179.5L576.6,179.5L577.6,179.5L578.6,179.5L579.6,179.5L580.6,179.5L581.6,179.5L582.6,179.5L583.6,179.5L584.6,179.5L585.6,179.5L586.6,179.5L587.6,179.5L588.6,179.6L589.6,179.6L590.6,179.6L591.6,179.6L592.6,179.6L593.6,179.6L594.6,179.6L595.6,179.6L596.6,179.6L597.6,179.6L598.6,179.6L599.6,179.7L600.6,179.7L601.6,179.7L602.6,179.7L603.6,179.7L604.6,179.7L605.6,179.7L606.6,179.7L607.6,179.7L608.6,179.7L609.6,179.8L610.6,179.8L611.6,179.8L612.6,179.8L613.6,179.8L614.6,179.8L615.6,179.8L616.6,179.8L617.6,179.9L618.6,179.9L619.6,179.9L620.6,179.9L621.6,179.9L622.6,179.9L623.6,179.9L624.6,180.0L625.6,180.0L626.6,180.0L627.6,180.0L628.6,180.0L629.6,180.0L630.6,180.0L631.6,180.1L632.6,180.1L633.6,180.1L634.6,180.1L635.6,180.1L636.6,180.1L637.6,180.2L638.6,180.2L639.6,180.2L640.6,180.2L641.6,180.2L642.6,180.2L643.6,180.2L644.6,180.3L645.6,180.3L646.6,180.3L647.6,180.3L648.6,180.3L649.6,180.4L650.6,180.4L651.6,180.4L652.6,180.4L653.6,180.4L654.6,180.4L655.6,180.5L656.6,180.5L657.2,180.5" fill="none" stroke="#00ff00" stroke-width="3.9" stroke-linejoin="miter" stroke-linecap="butt" stroke-dasharray="3.3 1.67"/>
</g>
<path d="M474.20,34.60H755.60V217.40H474.20Z" fill="none" stroke="#000" stroke-width="1.15"/>
<text transform="translate(460.00,131.10) scale(0.806,1)" font-size="22" text-anchor="end">1</text>
<text transform="translate(461.20,224.80) scale(0.806,1)" font-size="22" text-anchor="end">0</text>
<text transform="translate(768.60,94.10) scale(0.806,1)" font-size="22" text-anchor="start">-0.6</text>
<text transform="translate(768.60,198.90) scale(0.806,1)" font-size="22" text-anchor="start">-0.8</text>
<text transform="translate(438.40,125.50) rotate(-90) scale(0.806,1)" font-size="22" text-anchor="middle">Nuclear density (R)</text>
<text transform="translate(825.60,125.50) rotate(-90) scale(0.806,1)" font-size="22" text-anchor="middle">Potential (R)(a.u.)</text>
<text transform="translate(530.40,56.40) scale(0.806,1)" font-size="22" text-anchor="start">t = 0 fs</text>
<clipPath id="c11"><rect x="473.70" y="226.90" width="282.40" height="187.00"/></clipPath>
<path d="M514.30,227.40v5M514.30,410.40v-5M594.74,227.40v5M594.74,410.40v-5M675.18,227.40v5M675.18,410.40v-5M474.20,316.30h5M755.60,316.30h-5M755.60,264.10h-5M755.60,336.60h-5M755.60,409.20h-5" fill="none" stroke="#000" stroke-width="1.15"/>
<g id="p11">
<path d="M474.2,410.4L475.2,410.5L476.2,410.5L477.2,410.5L478.2,410.6L479.2,410.6L480.2,410.7L481.2,410.7L482.2,410.7L483.2,410.7L484.2,410.7L485.2,410.7L486.2,410.7L487.2,410.7L488.2,410.7L489.2,410.7L490.2,410.7L491.2,410.7L492.2,410.7L493.2,410.7L494.2,410.7L495.2,410.7L496.2,410.6L497.2,410.6L498.2,410.6L499.2,410.6L500.2,410.5L501.2,410.5L502.2,410.5L503.2,410.5L504.2,410.4L505.2,410.4L506.2,410.3L507.2,410.3L508.2,410.2L509.2,410.0L510.2,409.9L511.2,409.7L512.2,409.6L513.2,409.3L514.2,408.9L515.2,408.5L516.2,407.9L517.2,407.4L518.2,406.7L519.2,405.8L520.2,404.8L521.2,403.8L522.2,402.4L523.2,400.9L524.2,399.1L525.2,397.0L526.2,394.4L527.2,391.0L528.2,386.2L529.2,380.2L530.2,373.3L531.2,365.4L532.2,357.3L533.2,349.8L534.2,342.4L535.2,335.2L536.2,328.0L537.2,320.9L538.2,314.0L539.2,307.8L540.2,302.7L541.2,298.4L542.2,295.2L543.2,293.0L544.2,291.7L545.2,291.3L546.2,291.8L547.2,293.3L548.2,295.7L549.2,299.0L550.2,302.9L551.2,308.1L552.2,313.9L553.2,319.7L554.2,325.5L555.2,331.5L556.2,337.4L557.2,343.0L558.2,348.0L559.2,352.3L560.2,356.2L561.2,359.8L562.2,363.2L563.2,366.4L564.2,369.6L565.2,372.6L566.2,375.3L567.2,377.9L568.2,380.3L569.2,382.6L570.2,384.7L571.2,386.6L572.2,388.5L573.2,390.2L574.2,391.8L575.2,393.2L576.2,394.6L577.2,395.7L578.2,396.8L579.2,397.8L580.2,398.6L581.2,399.3L582.2,399.9L583.2,400.4L584.2,400.9L585.2,401.3L586.2,401.7L587.2,402.1L588.2,402.4L589.2,402.6L590.2,402.9L591.2,403.1L592.2,403.4L593.2,403.6L594.2,403.8L595.2,404.0L596.2,404.2L597.2,404.4L598.2,404.7L599.2,404.9L600.2,405.1L601.2,405.3L602.2,405.4L603.2,405.6L604.2,405.8L605.2,406.0L606.2,406.2L607.2,406.4L608.2,406.6L609.2,406.7L610.2,406.9L611.2,407.1L612.2,407.2L613.2,407.4L614.2,407.5L615.2,407.7L616.2,407.8L617.2,407.9L618.2,408.0L619.2,408.1L620.2,408.2L621.2,408.3L622.2,408.4L623.2,408.5L624.2,408.5L625.2,408.6L626.2,408.7L627.2,408.7L628.2,408.8L629.2,408.9L630.2,408.9L631.2,409.0L632.2,409.1L633.2,409.1L634.2,409.2L635.2,409.2L636.2,409.3L637.2,409.3L638.2,409.4L639.2,409.4L640.2,409.4L641.2,409.5L642.2,409.5L643.2,409.6L644.2,409.6L645.2,409.6L646.2,409.6L647.2,409.7L648.2,409.7L649.2,409.7L650.2,409.7L651.2,409.7L652.2,409.8L653.2,409.8L654.2,409.8L655.2,409.8L656.2,409.9L657.2,409.9L658.2,409.9L659.2,409.9L660.2,409.9L661.2,409.9L662.2,410.0L663.2,410.0L664.2,410.0L665.2,410.0L666.2,410.0L667.2,410.1L668.2,410.1L669.2,410.1L670.2,410.1L671.2,410.1L672.2,410.1L673.2,410.1L674.2,410.1L675.2,410.2L676.2,410.2L677.2,410.2L678.2,410.2L679.2,410.2L680.2,410.2L681.2,410.2L682.2,410.2L683.2,410.2L684.2,410.2L685.2,410.2L686.2,410.2L687.2,410.2L688.2,410.3L689.2,410.3L690.2,410.3L691.2,410.3L692.2,410.3L693.2,410.3L694.2,410.3L695.2,410.3L696.2,410.3L697.2,410.3L698.2,410.3L699.2,410.3L700.2,410.3L701.2,410.3L702.2,410.3L703.2,410.3L704.2,410.4L705.2,410.4L706.2,410.4L707.2,410.4L708.2,410.4L709.2,410.4L710.2,410.4L711.2,410.4L712.2,410.4L713.2,410.4L714.2,410.4L715.2,410.4L716.2,410.4L717.2,410.4L718.2,410.4L719.2,410.4L720.2,410.4L721.2,410.4L722.2,410.4L723.2,410.4L724.2,410.4L725.2,410.4L726.2,410.4L727.2,410.4L728.2,410.4L729.2,410.4L730.2,410.4L731.2,410.4L732.2,410.4L733.2,410.4L734.2,410.4L735.2,410.4L736.2,410.4L737.2,410.4L738.2,410.4L739.2,410.4L740.2,410.4L741.2,410.4L742.2,410.4L743.2,410.4L744.2,410.4L745.2,410.4L746.2,410.4L747.2,410.4L748.2,410.4L749.2,410.4L750.2,410.4L751.2,410.4L752.2,410.4L753.2,410.4L754.2,410.4L755.2,410.4L755.6,410.4" fill="none" stroke="#000000" stroke-width="7.0" stroke-linejoin="miter" stroke-linecap="butt" stroke-miterlimit="10"/><path d="M474.2,410.4L476.6,410.4L479.1,410.4L481.5,410.4L484.0,410.4L486.4,410.4L488.9,410.4L491.3,410.4L493.8,410.4L496.2,410.4L498.7,410.4L501.1,410.4L503.6,410.4L505.3,410.2L507.7,410.1L510.1,409.9L512.3,409.5L514.3,409.1L517.9,407.3L521.5,403.7L524.1,399.2L526.5,393.0L528.3,384.0L530.0,370.6L532.2,353.6L534.0,337.7L537.4,316.8L540.2,295.7L542.0,282.1L544.3,287.7L547.1,296.6L550.4,297.6L552.7,317.5L555.4,335.8L558.1,351.9L561.7,360.8L564.4,371.5L566.5,378.7L569.7,389.4L573.3,389.4L576.9,397.5L579.6,401.9L582.0,401.2L584.0,400.1L587.6,401.9L590.0,403.0L592.1,403.7L594.8,400.1L598.4,404.6L601.9,406.4L605.5,407.3L609.1,402.8L611.0,404.0L612.7,404.6L616.2,406.4L619.0,407.5L621.5,406.0L624.0,407.8L626.5,406.9L629.0,408.4L631.5,407.2L634.0,408.6L636.5,407.8L639.0,409.0L641.5,408.2L644.0,409.3L646.5,408.7L649.0,409.6L651.5,407.6L654.0,407.5L656.4,408.2L658.9,408.1L661.3,407.8L663.8,407.9L666.2,408.8L668.7,408.9L671.1,409.1L673.6,408.8L676.0,409.2L678.5,409.0L680.9,408.9L683.4,409.2L685.8,409.0L688.3,409.1L690.7,409.5L693.2,409.3L695.6,409.5L698.1,409.4L700.5,409.6L703.0,409.4L705.4,409.6L707.9,409.7L710.3,409.6L712.8,410.1L715.2,410.1L717.7,410.1L720.1,410.1L722.6,410.1L725.0,410.1L727.5,410.1L729.9,410.1L732.4,410.1L734.8,410.1L737.3,410.1L739.7,410.1L742.2,410.1L744.6,410.1L747.1,410.1L749.5,410.1L752.0,410.1L754.4,410.1" fill="none" stroke="#ff0000" stroke-width="2.3" stroke-linejoin="round" stroke-linecap="butt"/><path d="M474.2,410.4h0M476.6,410.4h0M479.1,410.4h0M481.5,410.4h0M484.0,410.4h0M486.4,410.4h0M488.9,410.4h0M491.3,410.4h0M493.8,410.4h0M496.2,410.4h0M498.7,410.4h0M501.1,410.4h0M503.6,410.4h0M505.3,410.2h0M507.7,410.1h0M510.1,409.9h0M512.3,409.5h0M514.3,409.1h0M517.9,407.3h0M521.5,403.7h0M524.1,399.2h0M526.5,393.0h0M528.3,384.0h0M530.0,370.6h0M532.2,353.6h0M534.0,337.7h0M537.4,316.8h0M540.2,295.7h0M542.0,282.1h0M544.3,287.7h0M547.1,296.6h0M550.4,297.6h0M552.7,317.5h0M555.4,335.8h0M558.1,351.9h0M561.7,360.8h0M564.4,371.5h0M566.5,378.7h0M569.7,389.4h0M573.3,389.4h0M576.9,397.5h0M579.6,401.9h0M582.0,401.2h0M584.0,400.1h0M587.6,401.9h0M590.0,403.0h0M592.1,403.7h0M594.8,400.1h0M598.4,404.6h0M601.9,406.4h0M605.5,407.3h0M609.1,402.8h0M611.0,404.0h0M612.7,404.6h0M616.2,406.4h0M619.0,407.5h0M621.5,406.0h0M624.0,407.8h0M626.5,406.9h0M629.0,408.4h0M631.5,407.2h0M634.0,408.6h0M636.5,407.8h0M639.0,409.0h0M641.5,408.2h0M644.0,409.3h0M646.5,408.7h0M649.0,409.6h0M651.5,407.6h0M654.0,407.5h0M656.4,408.2h0M658.9,408.1h0M661.3,407.8h0M663.8,407.9h0M666.2,408.8h0M668.7,408.9h0M671.1,409.1h0M673.6,408.8h0M676.0,409.2h0M678.5,409.0h0M680.9,408.9h0M683.4,409.2h0M685.8,409.0h0M688.3,409.1h0M690.7,409.5h0M693.2,409.3h0M695.6,409.5h0M698.1,409.4h0M700.5,409.6h0M703.0,409.4h0M705.4,409.6h0M707.9,409.7h0M710.3,409.6h0M712.8,410.1h0M715.2,410.1h0M717.7,410.1h0M720.1,410.1h0M722.6,410.1h0M725.0,410.1h0M727.5,410.1h0M729.9,410.1h0M732.4,410.1h0M734.8,410.1h0M737.3,410.1h0M739.7,410.1h0M742.2,410.1h0M744.6,410.1h0M747.1,410.1h0M749.5,410.1h0M752.0,410.1h0M754.4,410.1h0" fill="none" stroke="#ff0000" stroke-width="5.40" stroke-linecap="round"/><path d="M556.4,327.4L557.4,327.0L558.4,326.7L559.4,326.3L560.4,325.9L561.4,325.6L562.4,325.2L563.4,324.8L564.4,324.5L565.4,324.1L566.4,323.8L567.4,323.4L568.4,323.1L569.4,322.7L570.4,322.4L571.4,322.0L572.4,321.7L573.4,321.4L574.4,321.0L575.4,320.7L576.4,320.4L577.4,320.0L578.4,319.7L579.4,319.4L580.4,319.0L581.4,318.7L582.4,318.4L583.4,318.1L584.4,317.7L585.4,317.4L586.4,317.1L587.4,316.8L588.4,316.5L589.4,316.2L590.4,315.8L591.4,315.5L592.4,315.2L593.4,314.9L594.4,314.6L595.4,314.3L596.4,314.0L597.4,313.6L598.4,313.3L599.4,313.0L600.4,312.7L601.4,312.4L602.4,312.1L603.4,311.8L604.4,311.5L605.4,311.2L606.4,310.9L607.4,310.6L608.4,310.3L609.4,309.9L610.4,309.6L611.4,309.3L612.4,309.0L613.4,308.7L614.4,308.4L615.4,308.1L616.4,307.8L617.4,307.5L618.4,307.2L619.4,306.9L620.4,306.6L621.4,306.3L622.4,306.0L623.4,305.8L624.4,305.5L625.4,305.2L626.4,304.9L627.4,304.6L628.4,304.4L629.4,304.1L630.4,303.8L631.4,303.6L632.4,303.3L633.4,303.1L634.4,302.8L635.4,302.6L636.4,302.4L637.4,302.2L638.4,301.9L639.4,301.7L640.4,301.5L641.4,301.3L642.4,301.1L643.4,300.9L644.4,300.7L645.4,300.5L646.4,300.3L647.4,300.2L648.4,300.0L649.4,299.8L650.4,299.6L651.4,299.4L652.4,299.2L653.4,299.0L654.4,298.8L655.4,298.7L656.4,298.5L657.4,298.3L658.4,298.1L659.4,298.0L660.4,297.8L661.4,297.6L662.4,297.5L663.4,297.3L664.4,297.1L665.4,297.0L666.4,296.8L667.4,296.7L668.4,296.5L669.4,296.4L670.4,296.2L671.4,296.1L672.4,295.9L673.4,295.8L674.4,295.7L675.4,295.5L676.4,295.4L677.4,295.3L678.4,295.2L679.4,295.1L680.4,295.0L681.4,294.9L682.4,294.8L683.4,294.7L684.4,294.6L685.4,294.5L686.4,294.4L687.4,294.3L688.4,294.2L689.4,294.1L690.4,294.0L691.4,293.9L692.4,293.9L693.4,293.8L694.4,293.7L695.4,293.6L696.4,293.5L697.4,293.5L698.4,293.4L699.4,293.3L700.4,293.2L701.4,293.2L702.4,293.1L703.4,293.1L704.4,293.0L705.4,292.9L706.4,292.9L707.4,292.8L708.4,292.8L709.4,292.7L710.4,292.7L711.4,292.6L712.4,292.6L713.4,292.5L714.4,292.4L715.4,292.4L716.4,292.4L717.4,292.3L718.4,292.3L719.4,292.2L720.4,292.2L721.4,292.1L722.4,292.1L723.4,292.0L724.4,292.0L725.4,292.0L726.4,291.9L727.4,291.9L728.4,291.8L729.4,291.8L730.4,291.8L731.4,291.7L732.4,291.7L733.4,291.7L734.4,291.6L735.4,291.6L736.4,291.6L737.4,291.5L738.4,291.5L739.4,291.5L740.4,291.4L741.4,291.4L742.4,291.4L743.4,291.3L744.4,291.3L745.4,291.3L746.4,291.2L747.4,291.2L748.4,291.2L749.4,291.2L750.4,291.1L751.4,291.1L752.4,291.1L753.4,291.1L754.4,291.0L755.4,291.0L755.7,291.0" fill="none" stroke="#000000" stroke-width="1.9" stroke-linejoin="round" stroke-linecap="butt" stroke-dasharray="3.4 1.57"/><path d="M478.3,227.4L478.3,227.4L479.3,231.7L480.3,235.9L481.3,240.1L482.3,244.3L483.3,248.4L484.3,252.7L485.3,257.1L486.3,261.7L487.3,266.2L488.3,270.7L489.3,275.0L490.3,279.2L491.3,283.0L492.3,286.1L493.3,288.7L494.3,291.0L495.3,293.1L496.3,295.2L497.3,297.3L498.3,299.4L499.3,301.5L500.3,303.4L501.3,305.3L502.3,307.1L503.3,308.8L504.3,310.4L505.3,312.0L506.3,313.5L507.3,314.9L508.3,316.3L509.3,317.5L510.3,318.8L511.3,319.9L512.3,321.0L513.3,322.0L514.3,322.8L515.3,323.6L516.3,324.4L517.3,325.1L518.3,325.7L519.3,326.3L520.3,326.8L521.3,327.3L522.3,327.8L523.3,328.3L524.3,328.7L525.3,329.1L526.3,329.4L527.3,329.7L528.3,330.0L529.3,330.2L530.3,330.4L531.3,330.6L532.3,330.8L533.3,330.9L534.3,331.1L535.3,331.1L536.3,331.2L537.3,331.3L538.3,331.4L539.3,331.4L540.3,331.5L541.3,331.5L542.3,331.6L543.3,331.6L544.3,331.6L545.3,331.7L546.3,331.7L547.3,331.7L548.3,331.7L549.3,331.7L550.3,331.7L551.3,331.7L552.3,331.8L553.3,331.8L554.3,331.8L555.3,331.9L556.3,332.0L557.3,332.0L558.3,332.1L559.3,332.3L560.3,332.4L561.3,332.6L562.3,332.7L563.3,332.9L564.3,333.1L565.3,333.3L566.3,333.5L567.3,333.9L568.3,334.2L569.3,334.6L570.3,335.0L571.3,335.5L572.3,336.1L573.3,336.7L574.3,337.3L575.3,338.0L576.3,338.7L577.3,339.3L578.3,340.0L579.3,340.7L580.3,341.4L581.3,342.2L582.3,342.9L583.3,343.6L584.3,344.4L585.3,345.2L586.3,345.9L587.3,346.7L588.3,347.5L589.3,348.3L590.3,349.0L591.3,349.8L592.3,350.5L593.3,351.2L594.3,351.9L595.3,352.6L596.3,353.3L597.3,354.0L598.3,354.6L599.3,355.3L600.3,355.9L601.3,356.6L602.3,357.2L603.3,357.8L604.3,358.5L605.3,359.1L606.3,359.7L607.3,360.4L608.3,361.0L609.3,361.6L610.3,362.2L611.3,362.8L612.3,363.4L613.3,364.0L614.3,364.6L615.3,365.2L616.3,365.8L617.3,366.3L618.3,366.9L619.3,367.4L620.3,368.0L621.3,368.5L622.3,369.1L623.3,369.6L624.3,370.1L625.3,370.6L626.3,371.1L627.3,371.6L628.3,372.0L629.3,372.5L630.3,373.0L631.3,373.4L632.3,373.9L633.3,374.3L634.3,374.8L635.3,375.2L636.3,375.7L637.3,376.1L638.3,376.5L639.3,376.9L640.3,377.3L641.3,377.7L642.3,378.1L643.3,378.5L644.3,378.9L645.3,379.3L646.3,379.7L647.3,380.0L648.3,380.4L649.3,380.7L650.3,381.1L651.3,381.4L652.3,381.8L653.3,382.1L654.3,382.4L655.3,382.8L656.3,383.1L657.3,383.4L658.3,383.7L659.3,384.0L660.3,384.3L661.3,384.6L662.3,384.9L663.3,385.2L664.3,385.5L665.3,385.8L666.3,386.1L667.3,386.4L668.3,386.6L669.3,386.9L670.3,387.2L671.3,387.4L672.3,387.7L673.3,388.0L674.3,388.2L675.3,388.4L676.3,388.7L677.3,388.9L678.3,389.1L679.3,389.3L680.3,389.5L681.3,389.7L682.3,389.9L683.3,390.1L684.3,390.3L685.3,390.5L686.3,390.7L687.3,390.9L688.3,391.1L689.3,391.3L690.3,391.4L691.3,391.6L692.3,391.7L693.3,391.8L694.3,392.0L695.3,392.1L696.3,392.1L697.3,392.2L698.3,392.3L699.3,392.3L700.3,392.3L701.3,392.3L702.3,392.3L703.3,392.2L704.3,392.2L705.3,392.1L706.3,392.1L707.3,392.0L708.3,391.9L709.3,391.8L710.3,391.7L711.3,391.6L712.3,391.5L713.3,391.4L714.3,391.3L715.3,391.2L716.3,391.0L717.3,390.9L718.3,390.7L719.3,390.6L720.3,390.5L721.3,390.3L722.3,390.2L723.3,390.0L724.3,389.9L725.3,389.8L726.3,389.7L727.3,389.5L728.3,389.4L729.3,389.3L730.3,389.3L731.3,389.2L732.3,389.1L733.3,389.1L734.3,389.1L735.3,389.1L736.3,389.1L737.3,389.2L738.3,389.2L739.3,389.3L740.3,389.5L741.3,389.6L742.3,389.8L743.3,390.0L744.3,390.2L745.3,390.4L746.3,390.6L747.3,390.8L748.3,391.0L749.3,391.3L750.3,391.5L751.3,391.8L752.3,392.0L753.3,392.3L754.3,392.6L755.3,392.9L755.7,393.0" fill="none" stroke="#0000ff" stroke-width="7.0" stroke-linejoin="round" stroke-linecap="butt"/><path d="M474.0,343.2L475.0,341.7L476.0,340.2L477.0,338.9L478.0,337.7L479.0,336.6L480.0,335.6L481.0,334.6L482.0,333.8L483.0,333.2L484.0,332.6L485.0,332.1L486.0,331.7L487.0,331.3L488.0,331.0L489.0,330.8L490.0,330.6L491.0,330.5L492.0,330.4L493.0,330.3L494.0,330.2L495.0,330.1L496.0,330.0L497.0,330.0L498.0,329.9L499.0,329.8L500.0,329.8L501.0,329.8L502.0,329.8L503.0,329.7L504.0,329.7L505.0,329.7L506.0,329.6L507.0,329.6L508.0,329.6L509.0,329.6L510.0,329.5L511.0,329.5L512.0,329.5L513.0,329.5L514.0,329.5L515.0,329.5L516.0,329.5L517.0,329.5L518.0,329.6L519.0,329.6L520.0,329.7L521.0,329.7L522.0,329.8L523.0,329.9L524.0,330.0L525.0,330.1L526.0,330.2L527.0,330.3L528.0,330.4L529.0,330.5L530.0,330.7L531.0,330.8L532.0,330.9L533.0,331.0L534.0,331.0L535.0,331.1L536.0,331.2L537.0,331.3L538.0,331.3L539.0,331.4L540.0,331.4L541.0,331.5L542.0,331.6L543.0,331.6L544.0,331.7L545.0,331.7L546.0,331.7L547.0,331.7L548.0,331.7L549.0,331.7L550.0,331.7L551.0,331.7L552.0,331.8L553.0,331.8L554.0,331.8L555.0,331.9L556.0,331.9L557.0,332.0L558.0,332.1L559.0,332.2L560.0,332.4L561.0,332.5L562.0,332.7L563.0,332.8L564.0,333.0L565.0,333.2L566.0,333.5L567.0,333.8L568.0,334.1L569.0,334.5L570.0,334.9L571.0,335.4L572.0,335.9L573.0,336.5L574.0,337.1L575.0,337.8L576.0,338.5L577.0,339.1L578.0,339.8L579.0,340.5L580.0,341.2L581.0,341.9L582.0,342.7L583.0,343.4L584.0,344.2L585.0,344.9L586.0,345.7L587.0,346.5L588.0,347.3L589.0,348.0L590.0,348.8L591.0,349.5L592.0,350.3L593.0,351.0L594.0,351.7L595.0,352.4L596.0,353.1L597.0,353.8L598.0,354.4L599.0,355.1L600.0,355.7L601.0,356.4L602.0,357.0L603.0,357.7L604.0,358.3L605.0,358.9L606.0,359.5L607.0,360.2L608.0,360.8L609.0,361.4L610.0,362.0L611.0,362.6L612.0,363.2L613.0,363.8L614.0,364.4L615.0,365.0L616.0,365.6L617.0,366.2L618.0,366.7L619.0,367.3L620.0,367.8L621.0,368.4L622.0,368.9L623.0,369.4L624.0,369.9L625.0,370.4L626.0,370.9L627.0,371.4L628.0,371.9L629.0,372.4L630.0,372.8L631.0,373.3L632.0,373.8L633.0,374.2L634.0,374.7L635.0,375.1L636.0,375.5L637.0,376.0L638.0,376.4L639.0,376.8L640.0,377.2L641.0,377.6L642.0,378.0L643.0,378.4L644.0,378.8L645.0,379.2L646.0,379.5L647.0,379.9L648.0,380.3L649.0,380.6L650.0,381.0L651.0,381.3L652.0,381.7L653.0,382.0L654.0,382.3L655.0,382.7L656.0,383.0L657.0,383.3L658.0,383.6L659.0,383.9L660.0,384.2L661.0,384.5L662.0,384.8L663.0,385.1L664.0,385.4L665.0,385.7L666.0,386.0L667.0,386.3L668.0,386.6L669.0,386.8L670.0,387.1L671.0,387.4L672.0,387.6L673.0,387.9L674.0,388.1L675.0,388.4L676.0,388.6L677.0,388.8L678.0,389.1L679.0,389.3L680.0,389.5L681.0,389.7L682.0,389.9L683.0,390.1L684.0,390.3L685.0,390.5L686.0,390.7L687.0,390.8L688.0,391.0L689.0,391.2L690.0,391.4L691.0,391.5L692.0,391.7L693.0,391.8L694.0,391.9L695.0,392.0L696.0,392.1L697.0,392.2L698.0,392.3L699.0,392.3L700.0,392.3L701.0,392.3L702.0,392.3L703.0,392.3L704.0,392.2L705.0,392.2L706.0,392.1L707.0,392.0L708.0,391.9L709.0,391.9L710.0,391.8L711.0,391.7L712.0,391.5L713.0,391.4L714.0,391.3L715.0,391.2L716.0,391.1L717.0,390.9L718.0,390.8L719.0,390.6L720.0,390.5L721.0,390.4L722.0,390.2L723.0,390.1L724.0,389.9L725.0,389.8L726.0,389.7L727.0,389.6L728.0,389.5L729.0,389.4L730.0,389.3L731.0,389.2L732.0,389.2L733.0,389.1L734.0,389.1L735.0,389.1L736.0,389.1L737.0,389.1L738.0,389.2L739.0,389.3L740.0,389.4L741.0,389.6L742.0,389.7L743.0,389.9L744.0,390.1L745.0,390.3L746.0,390.5L747.0,390.7L748.0,391.0L749.0,391.2L750.0,391.4L751.0,391.7L752.0,391.9L753.0,392.2L754.0,392.5L755.0,392.8L755.7,393.0" fill="none" stroke="#00ff00" stroke-width="3.9" stroke-linejoin="miter" stroke-linecap="butt" stroke-dasharray="3.3 1.67"/>
</g>
<path d="M474.20,227.40H755.60V410.40H474.20Z" fill="none" stroke="#000" stroke-width="1.15"/>
<text transform="translate(460.00,323.90) scale(0.806,1)" font-size="22" text-anchor="end">1</text>
<text transform="translate(461.20,417.80) scale(0.806,1)" font-size="22" text-anchor="end">0</text>
<text transform="translate(768.60,271.70) scale(0.806,1)" font-size="22" text-anchor="start">-0.6</text>
<text transform="translate(768.60,344.20) scale(0.806,1)" font-size="22" text-anchor="start">-0.8</text>
<text transform="translate(768.60,416.80) scale(0.806,1)" font-size="22" text-anchor="start">-1</text>
<text transform="translate(438.40,318.40) rotate(-90) scale(0.806,1)" font-size="22" text-anchor="middle">Nuclear density (R)</text>
<text transform="translate(825.60,318.40) rotate(-90) scale(0.806,1)" font-size="22" text-anchor="middle">Potential (R)(a.u.)</text>
<text transform="translate(530.40,248.50) scale(0.815,1)" font-size="22" text-anchor="start">t = 11.6 fs</text>
<clipPath id="c12"><rect x="473.70" y="419.90" width="282.40" height="174.90"/></clipPath>
<path d="M514.30,420.40v5M514.30,591.30v-5M594.74,420.40v5M594.74,591.30v-5M675.18,420.40v5M675.18,591.30v-5M474.20,503.20h5M755.60,503.20h-5M755.60,522.50h-5" fill="none" stroke="#000" stroke-width="1.15"/>
<g id="p12">
<path d="M474.2,591.3L475.2,591.3L476.2,591.4L477.2,591.4L478.2,591.4L479.2,591.4L480.2,591.4L481.2,591.4L482.2,591.5L483.2,591.5L484.2,591.5L485.2,591.5L486.2,591.5L487.2,591.5L488.2,591.5L489.2,591.5L490.2,591.5L491.2,591.5L492.2,591.4L493.2,591.4L494.2,591.4L495.2,591.4L496.2,591.4L497.2,591.4L498.2,591.3L499.2,591.3L500.2,591.3L501.2,591.3L502.2,591.2L503.2,591.2L504.2,591.1L505.2,591.0L506.2,590.9L507.2,590.9L508.2,590.8L509.2,590.7L510.2,590.6L511.2,590.4L512.2,590.2L513.2,590.0L514.2,589.8L515.2,589.6L516.2,589.2L517.2,588.7L518.2,588.0L519.2,587.2L520.2,586.3L521.2,585.2L522.2,584.1L523.2,583.0L524.2,581.6L525.2,579.9L526.2,577.8L527.2,575.4L528.2,572.5L529.2,569.4L530.2,566.1L531.2,562.7L532.2,559.2L533.2,555.7L534.2,552.0L535.2,548.4L536.2,544.9L537.2,541.5L538.2,538.4L539.2,535.3L540.2,532.3L541.2,529.6L542.2,527.5L543.2,526.0L544.2,525.2L545.2,525.0L546.2,525.5L547.2,526.6L548.2,528.3L549.2,530.4L550.2,532.5L551.2,534.6L552.2,536.8L553.2,538.9L554.2,541.1L555.2,543.4L556.2,545.7L557.2,548.0L558.2,550.3L559.2,552.5L560.2,554.7L561.2,556.9L562.2,558.9L563.2,560.7L564.2,562.5L565.2,564.1L566.2,565.6L567.2,567.1L568.2,568.5L569.2,569.7L570.2,570.9L571.2,572.0L572.2,573.0L573.2,573.9L574.2,574.7L575.2,575.4L576.2,576.1L577.2,576.8L578.2,577.4L579.2,577.9L580.2,578.3L581.2,578.8L582.2,579.2L583.2,579.5L584.2,579.9L585.2,580.3L586.2,580.6L587.2,580.9L588.2,581.1L589.2,581.4L590.2,581.6L591.2,581.7L592.2,581.9L593.2,582.1L594.2,582.2L595.2,582.4L596.2,582.5L597.2,582.6L598.2,582.8L599.2,582.9L600.2,583.0L601.2,583.1L602.2,583.2L603.2,583.2L604.2,583.3L605.2,583.3L606.2,583.4L607.2,583.4L608.2,583.5L609.2,583.5L610.2,583.6L611.2,583.6L612.2,583.7L613.2,583.7L614.2,583.8L615.2,583.8L616.2,583.9L617.2,583.9L618.2,584.0L619.2,584.0L620.2,584.0L621.2,584.1L622.2,584.1L623.2,584.2L624.2,584.2L625.2,584.2L626.2,584.3L627.2,584.3L628.2,584.3L629.2,584.4L630.2,584.4L631.2,584.5L632.2,584.5L633.2,584.5L634.2,584.6L635.2,584.6L636.2,584.7L637.2,584.7L638.2,584.7L639.2,584.8L640.2,584.8L641.2,584.8L642.2,584.9L643.2,584.9L644.2,585.0L645.2,585.0L646.2,585.1L647.2,585.1L648.2,585.1L649.2,585.2L650.2,585.2L651.2,585.3L652.2,585.3L653.2,585.3L654.2,585.4L655.2,585.4L656.2,585.5L657.2,585.5L658.2,585.6L659.2,585.6L660.2,585.6L661.2,585.7L662.2,585.7L663.2,585.8L664.2,585.8L665.2,585.8L666.2,585.9L667.2,585.9L668.2,585.9L669.2,586.0L670.2,586.0L671.2,586.0L672.2,586.1L673.2,586.1L674.2,586.1L675.2,586.2L676.2,586.2L677.2,586.2L678.2,586.3L679.2,586.3L680.2,586.3L681.2,586.4L682.2,586.4L683.2,586.4L684.2,586.5L685.2,586.5L686.2,586.5L687.2,586.6L688.2,586.6L689.2,586.6L690.2,586.7L691.2,586.7L692.2,586.7L693.2,586.8L694.2,586.8L695.2,586.8L696.2,586.9L697.2,586.9L698.2,586.9L699.2,587.0L700.2,587.0L701.2,587.0L702.2,587.1L703.2,587.1L704.2,587.1L705.2,587.2L706.2,587.2L707.2,587.2L708.2,587.3L709.2,587.3L710.2,587.3L711.2,587.4L712.2,587.4L713.2,587.4L714.2,587.5L715.2,587.5L716.2,587.5L717.2,587.6L718.2,587.6L719.2,587.6L720.2,587.7L721.2,587.7L722.2,587.7L723.2,587.8L724.2,587.8L725.2,587.8L726.2,587.9L727.2,587.9L728.2,587.9L729.2,588.0L730.2,588.0L731.2,588.0L732.2,588.1L733.2,588.1L734.2,588.1L735.2,588.2L736.2,588.2L737.2,588.2L738.2,588.2L739.2,588.3L740.2,588.3L741.2,588.3L742.2,588.3L743.2,588.4L744.2,588.4L745.2,588.4L746.2,588.4L747.2,588.4L748.2,588.5L749.2,588.5L750.2,588.5L751.2,588.5L752.2,588.5L753.2,588.6L754.2,588.6L755.2,588.6L755.6,588.6" fill="none" stroke="#000000" stroke-width="7.0" stroke-linejoin="miter" stroke-linecap="butt" stroke-miterlimit="10"/><path d="M474.2,591.3L476.6,591.3L479.1,591.3L481.5,591.3L484.0,591.3L486.4,591.3L488.9,591.3L491.3,591.3L493.8,591.3L496.2,591.3L498.7,591.3L501.1,591.3L503.6,591.3L506.0,591.3L509.0,591.3L511.5,591.3L514.0,591.2L516.4,591.0L518.9,590.6L521.3,589.8L523.8,588.4L526.2,586.4L528.7,583.2L530.3,579.1L531.9,570.9L534.1,563.6L536.0,556.2L538.1,540.7L540.6,520.3L543.4,519.5L545.0,525.2L548.8,519.2L550.7,519.5L552.7,524.1L554.8,531.7L556.9,539.4L558.1,552.1L560.5,561.9L562.1,557.0L564.6,555.7L567.0,561.9L569.5,570.1L571.1,572.6L573.6,570.4L576.0,569.3L578.5,571.7L580.9,574.2L583.4,576.6L585.8,578.3L589.1,584.8L591.5,582.3L594.0,579.9L596.4,579.1L598.9,580.7L601.3,584.0L604.6,575.8L607.0,576.6L609.5,579.1L611.9,580.7L614.4,584.8L616.8,587.2L619.3,584.0L621.7,578.3L623.4,575.8L625.0,577.4L627.5,580.8L630.0,582.9L632.4,582.7L634.9,584.2L637.3,586.1L639.8,586.1L642.2,586.8L644.7,584.0L647.1,582.1L649.6,581.0L652.0,580.0L654.5,579.0L656.9,580.1L659.4,581.8L661.8,582.0L664.3,584.3L666.7,584.6L669.2,584.2L671.6,584.1L674.1,582.7L676.5,584.1L679.0,584.1L681.4,581.6L683.9,581.8L686.3,583.5L688.8,583.2L691.2,586.6L693.7,586.9L696.1,585.8L698.6,583.7L701.0,582.0L703.5,582.4L705.9,583.0L708.4,584.4L710.8,585.2L713.3,587.4L715.7,588.3L718.2,587.0L720.6,587.1L723.1,585.5L725.5,585.7L728.0,585.8L730.4,586.9L732.9,586.6L735.3,586.0L737.8,586.5L740.2,586.6L742.7,586.7L745.1,583.8L747.6,587.3L750.0,587.8L752.5,588.1L754.9,588.3" fill="none" stroke="#ff0000" stroke-width="2.3" stroke-linejoin="round" stroke-linecap="butt"/><path d="M474.2,591.3h0M476.6,591.3h0M479.1,591.3h0M481.5,591.3h0M484.0,591.3h0M486.4,591.3h0M488.9,591.3h0M491.3,591.3h0M493.8,591.3h0M496.2,591.3h0M498.7,591.3h0M501.1,591.3h0M503.6,591.3h0M506.0,591.3h0M509.0,591.3h0M511.5,591.3h0M514.0,591.2h0M516.4,591.0h0M518.9,590.6h0M521.3,589.8h0M523.8,588.4h0M526.2,586.4h0M528.7,583.2h0M530.3,579.1h0M531.9,570.9h0M534.1,563.6h0M536.0,556.2h0M538.1,540.7h0M540.6,520.3h0M543.4,519.5h0M545.0,525.2h0M548.8,519.2h0M550.7,519.5h0M552.7,524.1h0M554.8,531.7h0M556.9,539.4h0M558.1,552.1h0M560.5,561.9h0M562.1,557.0h0M564.6,555.7h0M567.0,561.9h0M569.5,570.1h0M571.1,572.6h0M573.6,570.4h0M576.0,569.3h0M578.5,571.7h0M580.9,574.2h0M583.4,576.6h0M585.8,578.3h0M589.1,584.8h0M591.5,582.3h0M594.0,579.9h0M596.4,579.1h0M598.9,580.7h0M601.3,584.0h0M604.6,575.8h0M607.0,576.6h0M609.5,579.1h0M611.9,580.7h0M614.4,584.8h0M616.8,587.2h0M619.3,584.0h0M621.7,578.3h0M623.4,575.8h0M625.0,577.4h0M627.5,580.8h0M630.0,582.9h0M632.4,582.7h0M634.9,584.2h0M637.3,586.1h0M639.8,586.1h0M642.2,586.8h0M644.7,584.0h0M647.1,582.1h0M649.6,581.0h0M652.0,580.0h0M654.5,579.0h0M656.9,580.1h0M659.4,581.8h0M661.8,582.0h0M664.3,584.3h0M666.7,584.6h0M669.2,584.2h0M671.6,584.1h0M674.1,582.7h0M676.5,584.1h0M679.0,584.1h0M681.4,581.6h0M683.9,581.8h0M686.3,583.5h0M688.8,583.2h0M691.2,586.6h0M693.7,586.9h0M696.1,585.8h0M698.6,583.7h0M701.0,582.0h0M703.5,582.4h0M705.9,583.0h0M708.4,584.4h0M710.8,585.2h0M713.3,587.4h0M715.7,588.3h0M718.2,587.0h0M720.6,587.1h0M723.1,585.5h0M725.5,585.7h0M728.0,585.8h0M730.4,586.9h0M732.9,586.6h0M735.3,586.0h0M737.8,586.5h0M740.2,586.6h0M742.7,586.7h0M745.1,583.8h0M747.6,587.3h0M750.0,587.8h0M752.5,588.1h0M754.9,588.3h0" fill="none" stroke="#ff0000" stroke-width="5.40" stroke-linecap="round"/><path d="M565.7,499.9L566.7,499.1L567.7,498.3L568.7,497.6L569.7,496.8L570.7,496.1L571.7,495.3L572.7,494.6L573.7,493.8L574.7,493.1L575.7,492.3L576.7,491.6L577.7,490.9L578.7,490.2L579.7,489.4L580.7,488.7L581.7,488.0L582.7,487.3L583.7,486.6L584.7,485.9L585.7,485.2L586.7,484.5L587.7,483.8L588.7,483.1L589.7,482.4L590.7,481.7L591.7,481.1L592.7,480.4L593.7,479.7L594.7,479.1L595.7,478.4L596.7,477.8L597.7,477.1L598.7,476.5L599.7,475.8L600.7,475.2L601.7,474.6L602.7,474.0L603.7,473.3L604.7,472.7L605.7,472.1L606.7,471.5L607.7,470.9L608.7,470.3L609.7,469.7L610.7,469.1L611.7,468.5L612.7,468.0L613.7,467.4L614.7,466.9L615.7,466.3L616.7,465.8L617.7,465.2L618.7,464.7L619.7,464.2L620.7,463.7L621.7,463.2L622.7,462.7L623.7,462.2L624.7,461.8L625.7,461.3L626.7,460.9L627.7,460.5L628.7,460.0L629.7,459.6L630.7,459.2L631.7,458.8L632.7,458.4L633.7,458.1L634.7,457.7L635.7,457.3L636.7,457.0L637.7,456.6L638.7,456.3L639.7,455.9L640.7,455.6L641.7,455.3L642.7,454.9L643.7,454.6L644.7,454.3L645.7,454.0L646.7,453.7L647.7,453.4L648.7,453.0L649.7,452.7L650.7,452.4L651.7,452.1L652.7,451.9L653.7,451.6L654.7,451.3L655.7,451.0L656.7,450.7L657.7,450.4L658.7,450.2L659.7,449.9L660.7,449.6L661.7,449.3L662.7,449.1L663.7,448.8L664.7,448.5L665.7,448.2L666.7,448.0L667.7,447.7L668.7,447.4L669.7,447.2L670.7,446.9L671.7,446.7L672.7,446.4L673.7,446.2L674.7,445.9L675.7,445.7L676.7,445.5L677.7,445.2L678.7,445.0L679.7,444.8L680.7,444.6L681.7,444.3L682.7,444.1L683.7,443.9L684.7,443.7L685.7,443.5L686.7,443.3L687.7,443.1L688.7,442.9L689.7,442.7L690.7,442.6L691.7,442.4L692.7,442.2L693.7,442.0L694.7,441.9L695.7,441.7L696.7,441.6L697.7,441.4L698.7,441.3L699.7,441.1L700.7,441.0L701.7,440.9L702.7,440.7L703.7,440.6L704.7,440.5L705.7,440.4L706.7,440.3L707.7,440.2L708.7,440.0L709.7,439.9L710.7,439.8L711.7,439.7L712.7,439.6L713.7,439.5L714.7,439.4L715.7,439.3L716.7,439.3L717.7,439.2L718.7,439.1L719.7,439.0L720.7,438.9L721.7,438.8L722.7,438.7L723.7,438.7L724.7,438.6L725.7,438.5L726.7,438.4L727.7,438.4L728.7,438.3L729.7,438.2L730.7,438.2L731.7,438.1L732.7,438.0L733.7,438.0L734.7,437.9L735.7,437.8L736.7,437.8L737.7,437.7L738.7,437.7L739.7,437.6L740.7,437.5L741.7,437.5L742.7,437.4L743.7,437.4L744.7,437.3L745.7,437.3L746.7,437.2L747.7,437.2L748.7,437.1L749.7,437.1L750.7,437.0L751.7,437.0L752.7,436.9L753.7,436.9L754.7,436.8L755.7,436.8" fill="none" stroke="#000000" stroke-width="1.9" stroke-linejoin="round" stroke-linecap="butt" stroke-dasharray="3.4 1.57"/><path d="M491.2,420.4L491.5,421.9L492.5,427.1L493.5,432.3L494.5,437.3L495.5,442.2L496.5,446.6L497.5,450.7L498.5,454.6L499.5,458.3L500.5,462.0L501.5,465.5L502.5,468.9L503.5,472.2L504.5,475.3L505.5,478.2L506.5,480.9L507.5,483.4L508.5,485.6L509.5,487.6L510.5,489.4L511.5,490.9L512.5,492.4L513.5,493.9L514.5,495.3L515.5,496.6L516.5,497.8L517.5,498.9L518.5,500.0L519.5,501.0L520.5,502.0L521.5,502.9L522.5,503.7L523.5,504.5L524.5,505.2L525.5,505.9L526.5,506.5L527.5,507.0L528.5,507.5L529.5,507.9L530.5,508.3L531.5,508.6L532.5,508.9L533.5,509.1L534.5,509.3L535.5,509.4L536.5,509.5L537.5,509.5L538.5,509.5L539.5,509.4L540.5,509.3L541.5,509.2L542.5,509.1L543.5,509.0L544.5,508.8L545.5,508.6L546.5,508.4L547.5,508.2L548.5,508.0L549.5,507.7L550.5,507.4L551.5,507.2L552.5,506.8L553.5,506.5L554.5,506.1L555.5,505.9L556.5,505.6L557.5,505.4L558.5,505.1L559.5,504.9L560.5,504.7L561.5,504.5L562.5,504.4L563.5,504.2L564.5,504.1L565.5,504.0L566.5,503.9L567.5,503.9L568.5,503.9L569.5,504.1L570.5,504.3L571.5,504.7L572.5,505.1L573.5,505.6L574.5,506.1L575.5,506.6L576.5,507.2L577.5,507.7L578.5,508.3L579.5,508.9L580.5,509.5L581.5,510.1L582.5,510.7L583.5,511.4L584.5,512.0L585.5,512.6L586.5,513.2L587.5,513.8L588.5,514.4L589.5,515.0L590.5,515.5L591.5,516.1L592.5,516.6L593.5,517.1L594.5,517.6L595.5,518.1L596.5,518.6L597.5,519.1L598.5,519.6L599.5,520.1L600.5,520.5L601.5,521.0L602.5,521.5L603.5,521.9L604.5,522.4L605.5,522.9L606.5,523.3L607.5,523.7L608.5,524.2L609.5,524.6L610.5,525.0L611.5,525.4L612.5,525.8L613.5,526.1L614.5,526.5L615.5,526.8L616.5,527.1L617.5,527.4L618.5,527.7L619.5,527.9L620.5,528.2L621.5,528.4L622.5,528.6L623.5,528.8L624.5,529.0L625.5,529.2L626.5,529.3L627.5,529.5L628.5,529.6L629.5,529.8L630.5,529.9L631.5,530.1L632.5,530.2L633.5,530.3L634.5,530.5L635.5,530.6L636.5,530.7L637.5,530.8L638.5,530.9L639.5,531.0L640.5,531.0L641.5,531.1L642.5,531.2L643.5,531.2L644.5,531.3L645.5,531.3L646.5,531.4L647.5,531.4L648.5,531.5L649.5,531.5L650.5,531.5L651.5,531.6L652.5,531.6L653.5,531.7L654.5,531.7L655.5,531.8L656.5,531.8L657.5,531.9L658.5,532.0L659.5,532.0L660.5,532.1L661.5,532.2L662.5,532.3L663.5,532.4L664.5,532.5L665.5,532.6L666.5,532.6L667.5,532.7L668.5,532.8L669.5,532.9L670.5,533.0L671.5,533.1L672.5,533.2L673.5,533.2L674.5,533.3L675.5,533.4L676.5,533.5L677.5,533.6L678.5,533.7L679.5,533.7L680.5,533.8L681.5,533.9L682.5,534.0L683.5,534.1L684.5,534.1L685.5,534.2L686.5,534.3L687.5,534.4L688.5,534.5L689.5,534.5L690.5,534.6L691.5,534.7L692.5,534.8L693.5,534.8L694.5,534.9L695.5,535.0L696.5,535.0L697.5,535.1L698.5,535.1L699.5,535.2L700.5,535.2L701.5,535.3L702.5,535.3L703.5,535.4L704.5,535.4L705.5,535.4L706.5,535.5L707.5,535.5L708.5,535.5L709.5,535.5L710.5,535.5L711.5,535.5L712.5,535.5L713.5,535.5L714.5,535.5L715.5,535.4L716.5,535.4L717.5,535.3L718.5,535.3L719.5,535.2L720.5,535.1L721.5,535.0L722.5,534.9L723.5,534.8L724.5,534.7L725.5,534.5L726.5,534.4L727.5,534.3L728.5,534.1L729.5,534.0L730.5,533.8L731.5,533.7L732.5,533.5L733.5,533.3L734.5,533.2L735.5,533.0L736.5,532.8L737.5,532.6L738.5,532.4L739.5,532.2L740.5,532.0L741.5,531.8L742.5,531.6L743.5,531.4L744.5,531.2L745.5,531.0L746.5,530.8L747.5,530.6L748.5,530.4L749.5,530.2L750.5,530.0L751.5,529.7L752.5,529.5L753.5,529.3L754.5,529.1L755.5,528.8L755.7,528.8" fill="none" stroke="#0000ff" stroke-width="7.0" stroke-linejoin="round" stroke-linecap="butt"/><path d="M474.3,479.4L475.3,478.0L476.3,477.4L477.3,477.6L478.3,478.5L479.3,480.4L480.3,483.6L481.3,487.5L482.3,491.6L483.3,496.1L484.3,500.9L485.3,505.5L486.3,509.8L487.3,513.5L488.3,516.7L489.3,519.4L490.3,521.4L491.3,522.3L492.3,522.2L493.3,521.6L494.3,520.8L495.3,520.1L496.3,519.2L497.3,518.4L498.3,517.6L499.3,516.8L500.3,516.0L501.3,515.1L502.3,514.3L503.3,513.4L504.3,512.6L505.3,512.0L506.3,511.4L507.3,510.9L508.3,510.5L509.3,510.1L510.3,509.8L511.3,509.5L512.3,509.3L513.3,509.2L514.3,509.1L515.3,509.0L516.3,508.9L517.3,508.8L518.3,508.8L519.3,508.8L520.3,508.8L521.3,508.7L522.3,508.7L523.3,508.7L524.3,508.7L525.3,508.7L526.3,508.7L527.3,508.7L528.3,508.7L529.3,508.7L530.3,508.7L531.3,508.7L532.3,508.6L533.3,508.5L534.3,508.5L535.3,508.4L536.3,508.3L537.3,508.3L538.3,508.2L539.3,508.1L540.3,508.0L541.3,507.9L542.3,507.8L543.3,507.7L544.3,507.6L545.3,507.5L546.3,507.3L547.3,507.2L548.3,507.0L549.3,506.8L550.3,506.7L551.3,506.5L552.3,506.3L553.3,506.1L554.3,505.9L555.3,505.7L556.3,505.5L557.3,505.3L558.3,505.1L559.3,504.9L560.3,504.7L561.3,504.5L562.3,504.3L563.3,504.1L564.3,504.0L565.3,504.0L566.3,503.9L567.3,503.9L568.3,503.9L569.3,504.1L570.3,504.3L571.3,504.6L572.3,505.0L573.3,505.5L574.3,506.0L575.3,506.5L576.3,507.1L577.3,507.6L578.3,508.2L579.3,508.8L580.3,509.4L581.3,510.0L582.3,510.6L583.3,511.2L584.3,511.9L585.3,512.5L586.3,513.1L587.3,513.7L588.3,514.3L589.3,514.9L590.3,515.4L591.3,516.0L592.3,516.5L593.3,517.0L594.3,517.5L595.3,518.0L596.3,518.5L597.3,519.0L598.3,519.5L599.3,520.0L600.3,520.4L601.3,520.9L602.3,521.4L603.3,521.9L604.3,522.3L605.3,522.8L606.3,523.2L607.3,523.7L608.3,524.1L609.3,524.5L610.3,524.9L611.3,525.3L612.3,525.7L613.3,526.1L614.3,526.4L615.3,526.7L616.3,527.0L617.3,527.3L618.3,527.6L619.3,527.9L620.3,528.1L621.3,528.3L622.3,528.6L623.3,528.8L624.3,529.0L625.3,529.1L626.3,529.3L627.3,529.5L628.3,529.6L629.3,529.8L630.3,529.9L631.3,530.0L632.3,530.2L633.3,530.3L634.3,530.4L635.3,530.5L636.3,530.7L637.3,530.8L638.3,530.9L639.3,530.9L640.3,531.0L641.3,531.1L642.3,531.2L643.3,531.2L644.3,531.3L645.3,531.3L646.3,531.4L647.3,531.4L648.3,531.5L649.3,531.5L650.3,531.5L651.3,531.6L652.3,531.6L653.3,531.7L654.3,531.7L655.3,531.8L656.3,531.8L657.3,531.9L658.3,531.9L659.3,532.0L660.3,532.1L661.3,532.2L662.3,532.3L663.3,532.4L664.3,532.5L665.3,532.5L666.3,532.6L667.3,532.7L668.3,532.8L669.3,532.9L670.3,533.0L671.3,533.1L672.3,533.1L673.3,533.2L674.3,533.3L675.3,533.4L676.3,533.5L677.3,533.6L678.3,533.6L679.3,533.7L680.3,533.8L681.3,533.9L682.3,534.0L683.3,534.0L684.3,534.1L685.3,534.2L686.3,534.3L687.3,534.4L688.3,534.4L689.3,534.5L690.3,534.6L691.3,534.7L692.3,534.7L693.3,534.8L694.3,534.9L695.3,535.0L696.3,535.0L697.3,535.1L698.3,535.1L699.3,535.2L700.3,535.2L701.3,535.3L702.3,535.3L703.3,535.3L704.3,535.4L705.3,535.4L706.3,535.4L707.3,535.5L708.3,535.5L709.3,535.5L710.3,535.5L711.3,535.5L712.3,535.5L713.3,535.5L714.3,535.5L715.3,535.4L716.3,535.4L717.3,535.3L718.3,535.3L719.3,535.2L720.3,535.1L721.3,535.0L722.3,534.9L723.3,534.8L724.3,534.7L725.3,534.6L726.3,534.4L727.3,534.3L728.3,534.2L729.3,534.0L730.3,533.9L731.3,533.7L732.3,533.5L733.3,533.4L734.3,533.2L735.3,533.0L736.3,532.8L737.3,532.6L738.3,532.4L739.3,532.2L740.3,532.1L741.3,531.9L742.3,531.7L743.3,531.5L744.3,531.3L745.3,531.1L746.3,530.8L747.3,530.6L748.3,530.4L749.3,530.2L750.3,530.0L751.3,529.8L752.3,529.6L753.3,529.3L754.3,529.1L755.3,528.9L755.7,528.8" fill="none" stroke="#00ff00" stroke-width="3.9" stroke-linejoin="miter" stroke-linecap="butt" stroke-dasharray="3.3 1.67"/>
</g>
<path d="M474.20,420.40H755.60V591.30H474.20Z" fill="none" stroke="#000" stroke-width="1.15"/>
<text transform="translate(460.00,510.80) scale(0.806,1)" font-size="22" text-anchor="end">1</text>
<text transform="translate(461.20,598.70) scale(0.806,1)" font-size="22" text-anchor="end">0</text>
<text transform="translate(768.60,530.10) scale(0.806,1)" font-size="22" text-anchor="start">-0.8</text>
<text transform="translate(438.40,505.35) rotate(-90) scale(0.806,1)" font-size="22" text-anchor="middle">Nuclear density (R)</text>
<text transform="translate(825.60,505.35) rotate(-90) scale(0.806,1)" font-size="22" text-anchor="middle">Potential (R)(a.u.)</text>
<text transform="translate(530.40,440.70) scale(0.805,1)" font-size="22" text-anchor="start">t = 18.6 fs</text>
<text transform="translate(516.00,619.80) scale(0.806,1)" font-size="22" text-anchor="middle">2</text>
<text transform="translate(596.44,619.80) scale(0.806,1)" font-size="22" text-anchor="middle">4</text>
<text transform="translate(676.88,619.80) scale(0.806,1)" font-size="22" text-anchor="middle">6</text>
<text transform="translate(757.32,619.80) scale(0.806,1)" font-size="22" text-anchor="middle">8</text>
<text transform="translate(614.90,636.80) scale(0.806,1)" font-size="22" text-anchor="middle">R (a.u.)</text>
<text transform="translate(-0.60,23.60) scale(0.804,1)" xml:space="preserve"><tspan font-size="22" dy="0">(a) I</tspan><tspan font-size="17" dy="6.3">1</tspan><tspan font-size="22" dy="-6.3"> = 10</tspan><tspan font-size="17" dy="-10.4">14</tspan><tspan font-size="22" dy="10.4"> W/cm</tspan><tspan font-size="17" dy="-10.4">2</tspan></text>
<text transform="translate(417.50,23.60) scale(0.806,1)" xml:space="preserve"><tspan font-size="22" dy="0">(b) I</tspan><tspan font-size="17" dy="6.3">2</tspan><tspan font-size="22" dy="-6.3"> = 2.5x10</tspan><tspan font-size="17" dy="-10.4">13</tspan><tspan font-size="22" dy="10.4"> W/cm</tspan><tspan font-size="17" dy="-10.4">2</tspan></text>
</svg>
</body></html>
